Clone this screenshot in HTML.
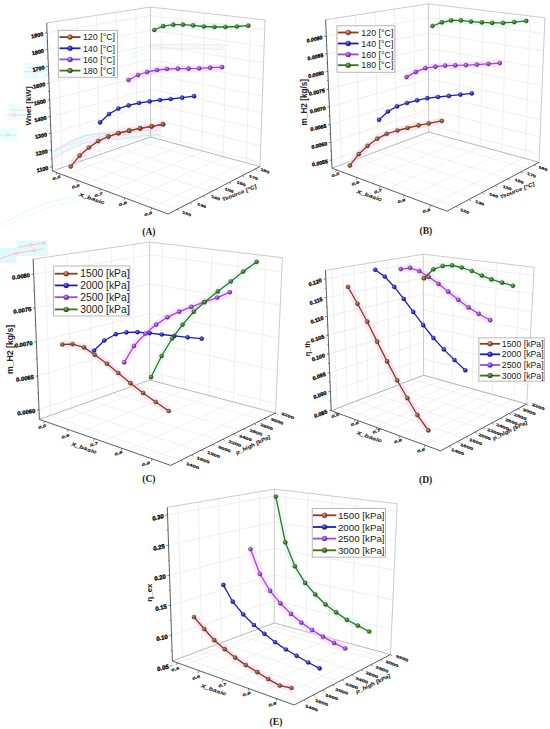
<!DOCTYPE html>
<html><head><meta charset="utf-8"><style>
html,body{margin:0;padding:0;background:#fff;width:550px;height:729px;overflow:hidden;}
svg{display:block;}

</style></head><body>
<svg width="550" height="729" viewBox="0 0 550 729">
<defs><radialGradient id="g_brown" cx="0.38" cy="0.35" r="0.7"><stop offset="0" stop-color="#c59a6a"/><stop offset="0.55" stop-color="#7d5a34"/><stop offset="1" stop-color="#4a2a10"/></radialGradient><radialGradient id="g_blue" cx="0.38" cy="0.35" r="0.7"><stop offset="0" stop-color="#8080ff"/><stop offset="0.55" stop-color="#2626cc"/><stop offset="1" stop-color="#0a0a70"/></radialGradient><radialGradient id="g_purple" cx="0.38" cy="0.35" r="0.7"><stop offset="0" stop-color="#d0a0ff"/><stop offset="0.55" stop-color="#9040d4"/><stop offset="1" stop-color="#50188a"/></radialGradient><radialGradient id="g_green" cx="0.38" cy="0.35" r="0.7"><stop offset="0" stop-color="#8fc070"/><stop offset="0.55" stop-color="#3d6e22"/><stop offset="1" stop-color="#1e4010"/></radialGradient><radialGradient id="g_brownL" cx="0.38" cy="0.35" r="0.7"><stop offset="0" stop-color="#f0b080"/><stop offset="0.55" stop-color="#b0502a"/><stop offset="1" stop-color="#5a2010"/></radialGradient></defs>
<rect width="550" height="729" fill="#ffffff"/>
<polyline points="53.5,154.8 70.0,145.0 84.2,138.9 100.0,136.5 113.6,135.7 130.0,134.8 143.1,134.0 160.3,133.2" fill="none" stroke="#d8f8f8" stroke-width="9" stroke-linejoin="round" opacity="0.55"/>
<polyline points="53.5,151.8 70.0,142.0 84.2,135.9 100.0,133.5 113.6,132.7 130.0,131.8 143.1,131.0 160.3,130.2" fill="none" stroke="#ffa8e4" stroke-width="0.9" stroke-linejoin="round" opacity="0.55"/>
<polyline points="53.5,158.0 70.0,149.0 84.2,143.2 100.0,141.0 113.6,139.5 130.0,137.5 143.1,135.9 160.3,134.6" fill="none" stroke="#ffa8e4" stroke-width="0.9" stroke-linejoin="round" opacity="0.45"/>
<polyline points="130.0,54.7 155.4,44.5 190.0,44.0 229.2,45.3" fill="none" stroke="#b8f0f0" stroke-width="0.9" stroke-linejoin="round" opacity="0.5"/>
<polyline points="130.0,59.8 155.4,48.3 190.0,48.5 224.1,49.6" fill="none" stroke="#b8f0f0" stroke-width="0.9" stroke-linejoin="round" opacity="0.4"/>
<polyline points="150.0,47.0 225.0,47.0" fill="none" stroke="#fde4f6" stroke-width="6" stroke-linejoin="round" opacity="0.4"/>
<rect x="24.0" y="63.0" width="23.0" height="16.0" fill="#d8f8f8" opacity="0.45"/>
<polyline points="26.0,67.5 47.0,67.5" fill="none" stroke="#ffa8e4" stroke-width="0.8" stroke-linejoin="round" opacity="0.5"/>
<polyline points="23.0,71.5 45.0,71.5" fill="none" stroke="#ffa8e4" stroke-width="0.8" stroke-linejoin="round" opacity="0.5"/>
<circle cx="35.0" cy="71.5" r="1.8" fill="none" stroke="#ffa8e4" stroke-width="0.8" opacity="0.5"/>
<rect x="8.0" y="104.0" width="17.0" height="16.0" fill="#d8f8f8" opacity="0.45"/>
<polyline points="10.0,110.0 30.0,110.0" fill="none" stroke="#ffa8e4" stroke-width="0.8" stroke-linejoin="round" opacity="0.5"/>
<polyline points="4.0,115.0 27.0,115.0" fill="none" stroke="#ffa8e4" stroke-width="0.8" stroke-linejoin="round" opacity="0.5"/>
<circle cx="14.0" cy="115.0" r="1.8" fill="none" stroke="#ffa8e4" stroke-width="0.8" opacity="0.5"/>
<rect x="0.0" y="128.0" width="17.0" height="14.0" fill="#d8f8f8" opacity="0.4"/>
<polyline points="0.0,135.0 17.0,135.0" fill="none" stroke="#9ee8f0" stroke-width="0.8" stroke-linejoin="round" opacity="0.7"/>
<circle cx="8.0" cy="135.0" r="1.6" fill="none" stroke="#9ee8f0" stroke-width="0.8" opacity="0.7"/>
<rect x="16.4" y="240.4" width="31.6" height="15.8" fill="#c8f4f4" opacity="0.55"/>
<rect x="0.0" y="248.0" width="16.4" height="15.3" fill="#c8f4f4" opacity="0.55"/>
<polyline points="19.0,247.2 31.0,245.0 45.0,242.8" fill="none" stroke="#ffa8e4" stroke-width="1.0" stroke-linejoin="round" opacity="0.7"/>
<circle cx="31.0" cy="245.0" r="1.5" fill="none" stroke="#ffa8e4" stroke-width="0.8" opacity="0.6"/>
<circle cx="44.0" cy="242.9" r="1.5" fill="none" stroke="#ffa8e4" stroke-width="0.8" opacity="0.6"/>
<polyline points="0.0,259.0 11.0,254.5 25.0,251.8 43.6,249.0" fill="none" stroke="#ffa8e4" stroke-width="1.0" stroke-linejoin="round" opacity="0.7"/>
<circle cx="16.0" cy="253.4" r="1.5" fill="none" stroke="#ffa8e4" stroke-width="0.8" opacity="0.6"/>
<circle cx="34.0" cy="250.3" r="1.5" fill="none" stroke="#ffa8e4" stroke-width="0.8" opacity="0.6"/>
<polyline points="0.0,224.7 25.0,212.0 50.0,202.0 78.9,195.4" fill="none" stroke="#d0f6f6" stroke-width="0.8" stroke-linejoin="round" opacity="0.8"/>
<polyline points="0.0,229.0 25.0,217.0 50.0,207.0 78.9,199.5" fill="none" stroke="#d0f6f6" stroke-width="0.8" stroke-linejoin="round" opacity="0.6"/>
<line x1="52.2" y1="166.8" x2="150.5" y2="133.3" stroke="#e0e0e0" stroke-width="0.5"/>
<line x1="150.5" y1="133.3" x2="260.1" y2="162.3" stroke="#e0e0e0" stroke-width="0.5"/>
<line x1="51.6" y1="150.1" x2="150.5" y2="118.6" stroke="#e0e0e0" stroke-width="0.5"/>
<line x1="150.5" y1="118.6" x2="260.7" y2="145.8" stroke="#e0e0e0" stroke-width="0.5"/>
<line x1="50.9" y1="133.3" x2="150.5" y2="103.9" stroke="#e0e0e0" stroke-width="0.5"/>
<line x1="150.5" y1="103.9" x2="261.3" y2="129.2" stroke="#e0e0e0" stroke-width="0.5"/>
<line x1="50.3" y1="116.6" x2="150.5" y2="89.2" stroke="#e0e0e0" stroke-width="0.5"/>
<line x1="150.5" y1="89.2" x2="261.8" y2="112.6" stroke="#e0e0e0" stroke-width="0.5"/>
<line x1="49.7" y1="99.8" x2="150.5" y2="74.5" stroke="#e0e0e0" stroke-width="0.5"/>
<line x1="150.5" y1="74.5" x2="262.4" y2="96.0" stroke="#e0e0e0" stroke-width="0.5"/>
<line x1="49.0" y1="83.1" x2="150.4" y2="59.7" stroke="#e0e0e0" stroke-width="0.5"/>
<line x1="150.4" y1="59.7" x2="263.0" y2="79.4" stroke="#e0e0e0" stroke-width="0.5"/>
<line x1="48.4" y1="66.3" x2="150.4" y2="45.0" stroke="#e0e0e0" stroke-width="0.5"/>
<line x1="150.4" y1="45.0" x2="263.5" y2="62.9" stroke="#e0e0e0" stroke-width="0.5"/>
<line x1="47.7" y1="49.6" x2="150.4" y2="30.3" stroke="#e0e0e0" stroke-width="0.5"/>
<line x1="150.4" y1="30.3" x2="264.1" y2="46.3" stroke="#e0e0e0" stroke-width="0.5"/>
<line x1="47.1" y1="32.8" x2="150.4" y2="15.6" stroke="#e0e0e0" stroke-width="0.5"/>
<line x1="150.4" y1="15.6" x2="264.7" y2="29.7" stroke="#e0e0e0" stroke-width="0.5"/>
<line x1="62.2" y1="167.6" x2="57.1" y2="21.4" stroke="#e0e0e0" stroke-width="0.5"/>
<line x1="80.8" y1="161.1" x2="76.8" y2="18.4" stroke="#e0e0e0" stroke-width="0.5"/>
<line x1="99.5" y1="154.7" x2="96.5" y2="15.3" stroke="#e0e0e0" stroke-width="0.5"/>
<line x1="118.1" y1="148.2" x2="116.2" y2="12.3" stroke="#e0e0e0" stroke-width="0.5"/>
<line x1="136.8" y1="141.8" x2="135.9" y2="9.2" stroke="#e0e0e0" stroke-width="0.5"/>
<line x1="64.0" y1="175.3" x2="161.4" y2="139.9" stroke="#e4e4e4" stroke-width="0.5"/>
<line x1="85.9" y1="183.5" x2="182.3" y2="145.6" stroke="#e4e4e4" stroke-width="0.5"/>
<line x1="107.9" y1="191.6" x2="203.1" y2="151.2" stroke="#e4e4e4" stroke-width="0.5"/>
<line x1="129.9" y1="199.8" x2="223.9" y2="156.8" stroke="#e4e4e4" stroke-width="0.5"/>
<line x1="151.8" y1="208.0" x2="244.7" y2="162.4" stroke="#e4e4e4" stroke-width="0.5"/>
<line x1="160.9" y1="139.8" x2="161.3" y2="8.2" stroke="#e0e0e0" stroke-width="0.5"/>
<line x1="61.7" y1="167.8" x2="176.7" y2="209.5" stroke="#e4e4e4" stroke-width="0.5"/>
<line x1="180.6" y1="145.1" x2="181.9" y2="10.6" stroke="#e0e0e0" stroke-width="0.5"/>
<line x1="79.4" y1="161.7" x2="193.3" y2="200.9" stroke="#e4e4e4" stroke-width="0.5"/>
<line x1="202.0" y1="150.9" x2="204.3" y2="13.1" stroke="#e0e0e0" stroke-width="0.5"/>
<line x1="98.5" y1="155.0" x2="211.2" y2="191.7" stroke="#e4e4e4" stroke-width="0.5"/>
<line x1="223.3" y1="156.6" x2="226.6" y2="15.6" stroke="#e0e0e0" stroke-width="0.5"/>
<line x1="117.6" y1="148.4" x2="229.2" y2="182.4" stroke="#e4e4e4" stroke-width="0.5"/>
<line x1="246.3" y1="162.8" x2="250.7" y2="18.4" stroke="#e0e0e0" stroke-width="0.5"/>
<line x1="138.2" y1="141.2" x2="248.5" y2="172.4" stroke="#e4e4e4" stroke-width="0.5"/>
<line x1="46.7" y1="23.0" x2="150.4" y2="7.0" stroke="#a8a8a8" stroke-width="0.6"/>
<line x1="150.4" y1="7.0" x2="265.0" y2="20.0" stroke="#a8a8a8" stroke-width="0.6"/>
<line x1="150.5" y1="137.0" x2="150.4" y2="7.0" stroke="#a8a8a8" stroke-width="0.6"/>
<line x1="260.0" y1="166.5" x2="265.0" y2="20.0" stroke="#a8a8a8" stroke-width="0.6"/>
<line x1="52.4" y1="171.0" x2="150.5" y2="137.0" stroke="#888" stroke-width="0.6"/>
<line x1="150.5" y1="137.0" x2="260.0" y2="166.5" stroke="#888" stroke-width="0.6"/>
<line x1="52.4" y1="171.0" x2="46.7" y2="23.0" stroke="#333333" stroke-width="0.8"/>
<line x1="52.4" y1="171.0" x2="168.0" y2="214.0" stroke="#333333" stroke-width="0.8"/>
<line x1="168.0" y1="214.0" x2="260.0" y2="166.5" stroke="#333333" stroke-width="0.8"/>
<line x1="52.2" y1="166.8" x2="50.0" y2="167.1" stroke="#333333" stroke-width="0.6"/>
<line x1="51.6" y1="150.1" x2="49.4" y2="150.4" stroke="#333333" stroke-width="0.6"/>
<line x1="50.9" y1="133.3" x2="48.7" y2="133.6" stroke="#333333" stroke-width="0.6"/>
<line x1="50.3" y1="116.6" x2="48.1" y2="116.9" stroke="#333333" stroke-width="0.6"/>
<line x1="49.7" y1="99.8" x2="47.5" y2="100.1" stroke="#333333" stroke-width="0.6"/>
<line x1="49.0" y1="83.1" x2="46.8" y2="83.4" stroke="#333333" stroke-width="0.6"/>
<line x1="48.4" y1="66.3" x2="46.2" y2="66.6" stroke="#333333" stroke-width="0.6"/>
<line x1="47.7" y1="49.6" x2="45.5" y2="49.9" stroke="#333333" stroke-width="0.6"/>
<line x1="47.1" y1="32.8" x2="44.9" y2="33.1" stroke="#333333" stroke-width="0.6"/>
<line x1="51.9" y1="158.4" x2="50.6" y2="158.6" stroke="#333333" stroke-width="0.5"/>
<line x1="51.3" y1="141.7" x2="50.0" y2="141.9" stroke="#333333" stroke-width="0.5"/>
<line x1="50.6" y1="124.9" x2="49.3" y2="125.1" stroke="#333333" stroke-width="0.5"/>
<line x1="50.0" y1="108.2" x2="48.7" y2="108.4" stroke="#333333" stroke-width="0.5"/>
<line x1="49.3" y1="91.4" x2="48.0" y2="91.6" stroke="#333333" stroke-width="0.5"/>
<line x1="48.7" y1="74.7" x2="47.4" y2="74.9" stroke="#333333" stroke-width="0.5"/>
<line x1="48.0" y1="57.9" x2="46.7" y2="58.1" stroke="#333333" stroke-width="0.5"/>
<line x1="47.4" y1="41.2" x2="46.1" y2="41.4" stroke="#333333" stroke-width="0.5"/>
<text transform="translate(48.6,169.8) rotate(-13) skewX(-4)" font-family="Liberation Sans" font-size="5.5" font-weight="bold" text-anchor="end" fill="#000" stroke="#000" stroke-width="0.3">1100</text>
<text transform="translate(48.0,153.1) rotate(-13) skewX(-4)" font-family="Liberation Sans" font-size="5.5" font-weight="bold" text-anchor="end" fill="#000" stroke="#000" stroke-width="0.3">1200</text>
<text transform="translate(47.3,136.3) rotate(-13) skewX(-4)" font-family="Liberation Sans" font-size="5.5" font-weight="bold" text-anchor="end" fill="#000" stroke="#000" stroke-width="0.3">1300</text>
<text transform="translate(46.7,119.6) rotate(-13) skewX(-4)" font-family="Liberation Sans" font-size="5.5" font-weight="bold" text-anchor="end" fill="#000" stroke="#000" stroke-width="0.3">1400</text>
<text transform="translate(46.1,102.8) rotate(-13) skewX(-4)" font-family="Liberation Sans" font-size="5.5" font-weight="bold" text-anchor="end" fill="#000" stroke="#000" stroke-width="0.3">1500</text>
<text transform="translate(45.4,86.1) rotate(-13) skewX(-4)" font-family="Liberation Sans" font-size="5.5" font-weight="bold" text-anchor="end" fill="#000" stroke="#000" stroke-width="0.3">1600</text>
<text transform="translate(44.8,69.3) rotate(-13) skewX(-4)" font-family="Liberation Sans" font-size="5.5" font-weight="bold" text-anchor="end" fill="#000" stroke="#000" stroke-width="0.3">1700</text>
<text transform="translate(44.1,52.6) rotate(-13) skewX(-4)" font-family="Liberation Sans" font-size="5.5" font-weight="bold" text-anchor="end" fill="#000" stroke="#000" stroke-width="0.3">1800</text>
<text transform="translate(43.5,35.8) rotate(-13) skewX(-4)" font-family="Liberation Sans" font-size="5.5" font-weight="bold" text-anchor="end" fill="#000" stroke="#000" stroke-width="0.3">1900</text>
<line x1="57.0" y1="172.7" x2="55.8" y2="174.9" stroke="#333333" stroke-width="0.6"/>
<line x1="77.8" y1="180.5" x2="76.6" y2="182.7" stroke="#333333" stroke-width="0.6"/>
<line x1="101.0" y1="189.1" x2="99.8" y2="191.3" stroke="#333333" stroke-width="0.6"/>
<line x1="125.2" y1="198.1" x2="124.0" y2="200.3" stroke="#333333" stroke-width="0.6"/>
<line x1="151.8" y1="208.0" x2="150.6" y2="210.2" stroke="#333333" stroke-width="0.6"/>
<text transform="translate(56.7,179.0) rotate(-17) skewX(-15) scale(1,0.62)" font-family="Liberation Sans" font-size="5.8" font-weight="bold" text-anchor="middle" fill="#111" stroke="#111" stroke-width="0.28">0.5</text>
<text transform="translate(75.8,187.7) rotate(-17) skewX(-15) scale(1,0.62)" font-family="Liberation Sans" font-size="5.8" font-weight="bold" text-anchor="middle" fill="#111" stroke="#111" stroke-width="0.28">0.6</text>
<text transform="translate(98.7,196.0) rotate(-17) skewX(-15) scale(1,0.62)" font-family="Liberation Sans" font-size="5.8" font-weight="bold" text-anchor="middle" fill="#111" stroke="#111" stroke-width="0.28">0.7</text>
<text transform="translate(122.9,205.0) rotate(-17) skewX(-15) scale(1,0.62)" font-family="Liberation Sans" font-size="5.8" font-weight="bold" text-anchor="middle" fill="#111" stroke="#111" stroke-width="0.28">0.8</text>
<text transform="translate(148.3,215.0) rotate(-17) skewX(-15) scale(1,0.62)" font-family="Liberation Sans" font-size="5.8" font-weight="bold" text-anchor="middle" fill="#111" stroke="#111" stroke-width="0.28">0.9</text>
<line x1="177.2" y1="209.2" x2="178.8" y2="210.8" stroke="#333333" stroke-width="0.6"/>
<line x1="190.2" y1="202.5" x2="191.8" y2="204.1" stroke="#333333" stroke-width="0.6"/>
<line x1="203.3" y1="195.8" x2="204.9" y2="197.4" stroke="#333333" stroke-width="0.6"/>
<line x1="216.3" y1="189.1" x2="217.9" y2="190.7" stroke="#333333" stroke-width="0.6"/>
<line x1="229.3" y1="182.3" x2="230.9" y2="183.9" stroke="#333333" stroke-width="0.6"/>
<line x1="242.4" y1="175.6" x2="244.0" y2="177.2" stroke="#333333" stroke-width="0.6"/>
<line x1="255.4" y1="168.9" x2="257.0" y2="170.5" stroke="#333333" stroke-width="0.6"/>
<text transform="translate(186.5,214.9) rotate(20) skewX(15) scale(1,0.62)" font-family="Liberation Sans" font-size="5.6" font-weight="bold" text-anchor="middle" fill="#111" stroke="#111" stroke-width="0.28">120</text>
<text transform="translate(201.6,206.7) rotate(20) skewX(15) scale(1,0.62)" font-family="Liberation Sans" font-size="5.6" font-weight="bold" text-anchor="middle" fill="#111" stroke="#111" stroke-width="0.28">130</text>
<text transform="translate(215.5,199.0) rotate(20) skewX(15) scale(1,0.62)" font-family="Liberation Sans" font-size="5.6" font-weight="bold" text-anchor="middle" fill="#111" stroke="#111" stroke-width="0.28">140</text>
<text transform="translate(229.1,191.5) rotate(20) skewX(15) scale(1,0.62)" font-family="Liberation Sans" font-size="5.6" font-weight="bold" text-anchor="middle" fill="#111" stroke="#111" stroke-width="0.28">150</text>
<text transform="translate(241.1,184.9) rotate(20) skewX(15) scale(1,0.62)" font-family="Liberation Sans" font-size="5.6" font-weight="bold" text-anchor="middle" fill="#111" stroke="#111" stroke-width="0.28">160</text>
<text transform="translate(253.4,178.7) rotate(20) skewX(15) scale(1,0.62)" font-family="Liberation Sans" font-size="5.6" font-weight="bold" text-anchor="middle" fill="#111" stroke="#111" stroke-width="0.28">170</text>
<text transform="translate(264.8,172.1) rotate(20) skewX(15) scale(1,0.62)" font-family="Liberation Sans" font-size="5.6" font-weight="bold" text-anchor="middle" fill="#111" stroke="#111" stroke-width="0.28">180</text>
<text transform="translate(91.0,200.0) rotate(19) skewX(-12) scale(1,0.7)" font-family="Liberation Sans" font-size="7.0" font-weight="bold" text-anchor="middle" fill="#222" stroke="#222" stroke-width="0.15">X_basic</text>
<text transform="translate(239.5,194.7) rotate(-22) skewX(-10) scale(1,0.8)" font-family="Liberation Sans" font-size="6.3" font-weight="bold" text-anchor="middle" fill="#222" stroke="#222" stroke-width="0.12">Tsource [°C]</text>
<text transform="translate(31.0,106.0) rotate(-90)" font-family="Liberation Sans" font-size="8.0" font-weight="bold" text-anchor="middle" fill="#222">Wnet [kW]</text>
<polyline points="70.7,166.6 79.6,155.6 89.0,147.5 98.2,141.1 108.4,136.5 118.5,133.2 129.2,130.7 140.2,128.4 151.6,126.4 163.1,124.3" fill="none" stroke="#f8c8e8" stroke-width="7" stroke-linejoin="round" opacity="0.45"/>
<polyline points="128.4,80.0 138.0,75.0 147.0,72.0 157.0,70.0 166.9,69.0 177.8,68.7 188.5,68.7 199.2,68.4 210.2,67.7 222.1,67.2" fill="none" stroke="#f8c8f0" stroke-width="7" stroke-linejoin="round" opacity="0.45"/>
<polyline points="154.2,30.0 163.1,26.2 173.3,24.7 182.9,24.7 193.1,25.4 203.8,26.5 214.5,27.0 225.4,27.0 236.9,26.5 248.3,25.7" fill="none" stroke="#c8f4f0" stroke-width="7" stroke-linejoin="round" opacity="0.45"/>
<polyline points="70.7,166.6 79.6,155.6 89.0,147.5 98.2,141.1 108.4,136.5 118.5,133.2 129.2,130.7 140.2,128.4 151.6,126.4 163.1,124.3" fill="none" stroke="#8c3b1c" stroke-width="1.3" stroke-linejoin="round"/>
<circle cx="70.7" cy="166.6" r="2.1" fill="url(#g_brown)" stroke="#4a2a10" stroke-width="0.3"/>
<circle cx="79.6" cy="155.6" r="2.1" fill="url(#g_brown)" stroke="#4a2a10" stroke-width="0.3"/>
<circle cx="89.0" cy="147.5" r="2.1" fill="url(#g_brown)" stroke="#4a2a10" stroke-width="0.3"/>
<circle cx="98.2" cy="141.1" r="2.1" fill="url(#g_brown)" stroke="#4a2a10" stroke-width="0.3"/>
<circle cx="108.4" cy="136.5" r="2.1" fill="url(#g_brown)" stroke="#4a2a10" stroke-width="0.3"/>
<circle cx="118.5" cy="133.2" r="2.1" fill="url(#g_brown)" stroke="#4a2a10" stroke-width="0.3"/>
<circle cx="129.2" cy="130.7" r="2.1" fill="url(#g_brown)" stroke="#4a2a10" stroke-width="0.3"/>
<circle cx="140.2" cy="128.4" r="2.1" fill="url(#g_brown)" stroke="#4a2a10" stroke-width="0.3"/>
<circle cx="151.6" cy="126.4" r="2.1" fill="url(#g_brown)" stroke="#4a2a10" stroke-width="0.3"/>
<circle cx="163.1" cy="124.3" r="2.1" fill="url(#g_brown)" stroke="#4a2a10" stroke-width="0.3"/>
<polyline points="100.0,122.4 109.0,114.0 118.4,108.6 128.6,105.4 139.0,103.0 149.6,101.4 160.0,100.0 170.7,99.0 182.2,97.7 194.1,96.2" fill="none" stroke="#1e1eb8" stroke-width="1.3" stroke-linejoin="round"/>
<circle cx="100.0" cy="122.4" r="2.1" fill="url(#g_blue)" stroke="#0a0a70" stroke-width="0.3"/>
<circle cx="109.0" cy="114.0" r="2.1" fill="url(#g_blue)" stroke="#0a0a70" stroke-width="0.3"/>
<circle cx="118.4" cy="108.6" r="2.1" fill="url(#g_blue)" stroke="#0a0a70" stroke-width="0.3"/>
<circle cx="128.6" cy="105.4" r="2.1" fill="url(#g_blue)" stroke="#0a0a70" stroke-width="0.3"/>
<circle cx="139.0" cy="103.0" r="2.1" fill="url(#g_blue)" stroke="#0a0a70" stroke-width="0.3"/>
<circle cx="149.6" cy="101.4" r="2.1" fill="url(#g_blue)" stroke="#0a0a70" stroke-width="0.3"/>
<circle cx="160.0" cy="100.0" r="2.1" fill="url(#g_blue)" stroke="#0a0a70" stroke-width="0.3"/>
<circle cx="170.7" cy="99.0" r="2.1" fill="url(#g_blue)" stroke="#0a0a70" stroke-width="0.3"/>
<circle cx="182.2" cy="97.7" r="2.1" fill="url(#g_blue)" stroke="#0a0a70" stroke-width="0.3"/>
<circle cx="194.1" cy="96.2" r="2.1" fill="url(#g_blue)" stroke="#0a0a70" stroke-width="0.3"/>
<polyline points="128.4,80.0 138.0,75.0 147.0,72.0 157.0,70.0 166.9,69.0 177.8,68.7 188.5,68.7 199.2,68.4 210.2,67.7 222.1,67.2" fill="none" stroke="#9c4ae0" stroke-width="1.3" stroke-linejoin="round"/>
<circle cx="128.4" cy="80.0" r="2.1" fill="url(#g_purple)" stroke="#50188a" stroke-width="0.3"/>
<circle cx="138.0" cy="75.0" r="2.1" fill="url(#g_purple)" stroke="#50188a" stroke-width="0.3"/>
<circle cx="147.0" cy="72.0" r="2.1" fill="url(#g_purple)" stroke="#50188a" stroke-width="0.3"/>
<circle cx="157.0" cy="70.0" r="2.1" fill="url(#g_purple)" stroke="#50188a" stroke-width="0.3"/>
<circle cx="166.9" cy="69.0" r="2.1" fill="url(#g_purple)" stroke="#50188a" stroke-width="0.3"/>
<circle cx="177.8" cy="68.7" r="2.1" fill="url(#g_purple)" stroke="#50188a" stroke-width="0.3"/>
<circle cx="188.5" cy="68.7" r="2.1" fill="url(#g_purple)" stroke="#50188a" stroke-width="0.3"/>
<circle cx="199.2" cy="68.4" r="2.1" fill="url(#g_purple)" stroke="#50188a" stroke-width="0.3"/>
<circle cx="210.2" cy="67.7" r="2.1" fill="url(#g_purple)" stroke="#50188a" stroke-width="0.3"/>
<circle cx="222.1" cy="67.2" r="2.1" fill="url(#g_purple)" stroke="#50188a" stroke-width="0.3"/>
<polyline points="154.2,30.0 163.1,26.2 173.3,24.7 182.9,24.7 193.1,25.4 203.8,26.5 214.5,27.0 225.4,27.0 236.9,26.5 248.3,25.7" fill="none" stroke="#3c7020" stroke-width="1.3" stroke-linejoin="round"/>
<circle cx="154.2" cy="30.0" r="2.1" fill="url(#g_green)" stroke="#1e4010" stroke-width="0.3"/>
<circle cx="163.1" cy="26.2" r="2.1" fill="url(#g_green)" stroke="#1e4010" stroke-width="0.3"/>
<circle cx="173.3" cy="24.7" r="2.1" fill="url(#g_green)" stroke="#1e4010" stroke-width="0.3"/>
<circle cx="182.9" cy="24.7" r="2.1" fill="url(#g_green)" stroke="#1e4010" stroke-width="0.3"/>
<circle cx="193.1" cy="25.4" r="2.1" fill="url(#g_green)" stroke="#1e4010" stroke-width="0.3"/>
<circle cx="203.8" cy="26.5" r="2.1" fill="url(#g_green)" stroke="#1e4010" stroke-width="0.3"/>
<circle cx="214.5" cy="27.0" r="2.1" fill="url(#g_green)" stroke="#1e4010" stroke-width="0.3"/>
<circle cx="225.4" cy="27.0" r="2.1" fill="url(#g_green)" stroke="#1e4010" stroke-width="0.3"/>
<circle cx="236.9" cy="26.5" r="2.1" fill="url(#g_green)" stroke="#1e4010" stroke-width="0.3"/>
<circle cx="248.3" cy="25.7" r="2.1" fill="url(#g_green)" stroke="#1e4010" stroke-width="0.3"/>
<polyline points="108.4,136.5 118.5,133.2 129.2,130.7 140.2,128.4 151.6,126.4 163.1,124.3" fill="none" stroke="#d42a1a" stroke-width="1.3" stroke-linejoin="round"/>
<circle cx="108.4" cy="136.5" r="2.1" fill="url(#g_brown)" stroke="#4a2a10" stroke-width="0.3"/>
<circle cx="118.5" cy="133.2" r="2.1" fill="url(#g_brown)" stroke="#4a2a10" stroke-width="0.3"/>
<circle cx="129.2" cy="130.7" r="2.1" fill="url(#g_brown)" stroke="#4a2a10" stroke-width="0.3"/>
<circle cx="140.2" cy="128.4" r="2.1" fill="url(#g_brown)" stroke="#4a2a10" stroke-width="0.3"/>
<circle cx="151.6" cy="126.4" r="2.1" fill="url(#g_brown)" stroke="#4a2a10" stroke-width="0.3"/>
<circle cx="163.1" cy="124.3" r="2.1" fill="url(#g_brown)" stroke="#4a2a10" stroke-width="0.3"/>
<line x1="331.6" y1="160.0" x2="428.6" y2="124.9" stroke="#e0e0e0" stroke-width="0.5"/>
<line x1="428.6" y1="124.9" x2="539.3" y2="154.3" stroke="#e0e0e0" stroke-width="0.5"/>
<line x1="330.9" y1="142.3" x2="428.6" y2="109.6" stroke="#e0e0e0" stroke-width="0.5"/>
<line x1="428.6" y1="109.6" x2="540.0" y2="137.1" stroke="#e0e0e0" stroke-width="0.5"/>
<line x1="330.1" y1="124.6" x2="428.5" y2="94.3" stroke="#e0e0e0" stroke-width="0.5"/>
<line x1="428.5" y1="94.3" x2="540.7" y2="119.8" stroke="#e0e0e0" stroke-width="0.5"/>
<line x1="329.4" y1="106.9" x2="428.5" y2="79.0" stroke="#e0e0e0" stroke-width="0.5"/>
<line x1="428.5" y1="79.0" x2="541.4" y2="102.6" stroke="#e0e0e0" stroke-width="0.5"/>
<line x1="328.6" y1="89.2" x2="428.5" y2="63.8" stroke="#e0e0e0" stroke-width="0.5"/>
<line x1="428.5" y1="63.8" x2="542.1" y2="85.4" stroke="#e0e0e0" stroke-width="0.5"/>
<line x1="327.8" y1="71.5" x2="428.5" y2="48.5" stroke="#e0e0e0" stroke-width="0.5"/>
<line x1="428.5" y1="48.5" x2="542.8" y2="68.1" stroke="#e0e0e0" stroke-width="0.5"/>
<line x1="327.1" y1="53.8" x2="428.4" y2="33.2" stroke="#e0e0e0" stroke-width="0.5"/>
<line x1="428.4" y1="33.2" x2="543.5" y2="50.9" stroke="#e0e0e0" stroke-width="0.5"/>
<line x1="326.3" y1="36.1" x2="428.4" y2="17.9" stroke="#e0e0e0" stroke-width="0.5"/>
<line x1="428.4" y1="17.9" x2="544.3" y2="33.7" stroke="#e0e0e0" stroke-width="0.5"/>
<line x1="341.7" y1="164.6" x2="335.9" y2="18.2" stroke="#e0e0e0" stroke-width="0.5"/>
<line x1="360.0" y1="157.7" x2="355.4" y2="15.2" stroke="#e0e0e0" stroke-width="0.5"/>
<line x1="378.4" y1="150.8" x2="374.9" y2="12.1" stroke="#e0e0e0" stroke-width="0.5"/>
<line x1="396.7" y1="143.9" x2="394.5" y2="9.1" stroke="#e0e0e0" stroke-width="0.5"/>
<line x1="415.1" y1="137.1" x2="414.0" y2="6.0" stroke="#e0e0e0" stroke-width="0.5"/>
<line x1="343.5" y1="172.5" x2="439.6" y2="135.0" stroke="#e4e4e4" stroke-width="0.5"/>
<line x1="365.3" y1="180.7" x2="460.6" y2="140.8" stroke="#e4e4e4" stroke-width="0.5"/>
<line x1="387.2" y1="188.8" x2="481.6" y2="146.5" stroke="#e4e4e4" stroke-width="0.5"/>
<line x1="409.0" y1="197.0" x2="502.6" y2="152.3" stroke="#e4e4e4" stroke-width="0.5"/>
<line x1="430.8" y1="205.2" x2="523.5" y2="158.1" stroke="#e4e4e4" stroke-width="0.5"/>
<line x1="439.1" y1="134.9" x2="439.5" y2="5.1" stroke="#e0e0e0" stroke-width="0.5"/>
<line x1="341.2" y1="164.8" x2="455.6" y2="206.6" stroke="#e4e4e4" stroke-width="0.5"/>
<line x1="459.0" y1="140.3" x2="460.4" y2="7.7" stroke="#e0e0e0" stroke-width="0.5"/>
<line x1="358.6" y1="158.2" x2="472.2" y2="197.8" stroke="#e4e4e4" stroke-width="0.5"/>
<line x1="480.5" y1="146.2" x2="483.2" y2="10.4" stroke="#e0e0e0" stroke-width="0.5"/>
<line x1="377.4" y1="151.2" x2="490.2" y2="188.2" stroke="#e4e4e4" stroke-width="0.5"/>
<line x1="502.0" y1="152.1" x2="505.9" y2="13.1" stroke="#e0e0e0" stroke-width="0.5"/>
<line x1="396.2" y1="144.1" x2="508.1" y2="178.7" stroke="#e4e4e4" stroke-width="0.5"/>
<line x1="525.2" y1="158.5" x2="530.3" y2="16.1" stroke="#e0e0e0" stroke-width="0.5"/>
<line x1="416.5" y1="136.5" x2="527.5" y2="168.4" stroke="#e4e4e4" stroke-width="0.5"/>
<line x1="325.6" y1="19.8" x2="428.4" y2="3.8" stroke="#a8a8a8" stroke-width="0.6"/>
<line x1="428.4" y1="3.8" x2="544.9" y2="17.8" stroke="#a8a8a8" stroke-width="0.6"/>
<line x1="428.6" y1="132.0" x2="428.4" y2="3.8" stroke="#a8a8a8" stroke-width="0.6"/>
<line x1="539.0" y1="162.3" x2="544.9" y2="17.8" stroke="#a8a8a8" stroke-width="0.6"/>
<line x1="332.0" y1="168.2" x2="428.6" y2="132.0" stroke="#888" stroke-width="0.6"/>
<line x1="428.6" y1="132.0" x2="539.0" y2="162.3" stroke="#888" stroke-width="0.6"/>
<line x1="332.0" y1="168.2" x2="325.6" y2="19.8" stroke="#333333" stroke-width="0.8"/>
<line x1="332.0" y1="168.2" x2="446.9" y2="211.2" stroke="#333333" stroke-width="0.8"/>
<line x1="446.9" y1="211.2" x2="539.0" y2="162.3" stroke="#333333" stroke-width="0.8"/>
<line x1="331.6" y1="160.0" x2="329.4" y2="160.3" stroke="#333333" stroke-width="0.6"/>
<line x1="330.9" y1="142.3" x2="328.7" y2="142.6" stroke="#333333" stroke-width="0.6"/>
<line x1="330.1" y1="124.6" x2="327.9" y2="124.9" stroke="#333333" stroke-width="0.6"/>
<line x1="329.4" y1="106.9" x2="327.2" y2="107.2" stroke="#333333" stroke-width="0.6"/>
<line x1="328.6" y1="89.2" x2="326.4" y2="89.5" stroke="#333333" stroke-width="0.6"/>
<line x1="327.8" y1="71.5" x2="325.6" y2="71.8" stroke="#333333" stroke-width="0.6"/>
<line x1="327.1" y1="53.8" x2="324.9" y2="54.1" stroke="#333333" stroke-width="0.6"/>
<line x1="326.3" y1="36.1" x2="324.1" y2="36.4" stroke="#333333" stroke-width="0.6"/>
<line x1="331.3" y1="151.2" x2="330.0" y2="151.3" stroke="#333333" stroke-width="0.5"/>
<line x1="330.5" y1="133.5" x2="329.2" y2="133.7" stroke="#333333" stroke-width="0.5"/>
<line x1="329.7" y1="115.8" x2="328.4" y2="116.0" stroke="#333333" stroke-width="0.5"/>
<line x1="329.0" y1="98.1" x2="327.7" y2="98.3" stroke="#333333" stroke-width="0.5"/>
<line x1="328.2" y1="80.4" x2="326.9" y2="80.6" stroke="#333333" stroke-width="0.5"/>
<line x1="327.4" y1="62.7" x2="326.1" y2="62.9" stroke="#333333" stroke-width="0.5"/>
<line x1="326.7" y1="45.0" x2="325.4" y2="45.2" stroke="#333333" stroke-width="0.5"/>
<text transform="translate(328.0,163.0) rotate(-13) skewX(-4)" font-family="Liberation Sans" font-size="5.25" font-weight="bold" text-anchor="end" fill="#000" stroke="#000" stroke-width="0.3">0.0055</text>
<text transform="translate(327.3,145.3) rotate(-13) skewX(-4)" font-family="Liberation Sans" font-size="5.25" font-weight="bold" text-anchor="end" fill="#000" stroke="#000" stroke-width="0.3">0.0060</text>
<text transform="translate(326.5,127.6) rotate(-13) skewX(-4)" font-family="Liberation Sans" font-size="5.25" font-weight="bold" text-anchor="end" fill="#000" stroke="#000" stroke-width="0.3">0.0065</text>
<text transform="translate(325.8,109.9) rotate(-13) skewX(-4)" font-family="Liberation Sans" font-size="5.25" font-weight="bold" text-anchor="end" fill="#000" stroke="#000" stroke-width="0.3">0.0070</text>
<text transform="translate(325.0,92.2) rotate(-13) skewX(-4)" font-family="Liberation Sans" font-size="5.25" font-weight="bold" text-anchor="end" fill="#000" stroke="#000" stroke-width="0.3">0.0075</text>
<text transform="translate(324.2,74.5) rotate(-13) skewX(-4)" font-family="Liberation Sans" font-size="5.25" font-weight="bold" text-anchor="end" fill="#000" stroke="#000" stroke-width="0.3">0.0080</text>
<text transform="translate(323.5,56.8) rotate(-13) skewX(-4)" font-family="Liberation Sans" font-size="5.25" font-weight="bold" text-anchor="end" fill="#000" stroke="#000" stroke-width="0.3">0.0085</text>
<text transform="translate(322.7,39.1) rotate(-13) skewX(-4)" font-family="Liberation Sans" font-size="5.25" font-weight="bold" text-anchor="end" fill="#000" stroke="#000" stroke-width="0.3">0.0090</text>
<line x1="336.6" y1="169.9" x2="335.4" y2="172.1" stroke="#333333" stroke-width="0.6"/>
<line x1="357.3" y1="177.7" x2="356.1" y2="179.9" stroke="#333333" stroke-width="0.6"/>
<line x1="380.3" y1="186.3" x2="379.1" y2="188.5" stroke="#333333" stroke-width="0.6"/>
<line x1="404.4" y1="195.3" x2="403.2" y2="197.5" stroke="#333333" stroke-width="0.6"/>
<line x1="430.8" y1="205.2" x2="429.6" y2="207.4" stroke="#333333" stroke-width="0.6"/>
<text transform="translate(335.5,176.0) rotate(-17) skewX(-15) scale(1,0.62)" font-family="Liberation Sans" font-size="5.8" font-weight="bold" text-anchor="middle" fill="#111" stroke="#111" stroke-width="0.28">0.5</text>
<text transform="translate(355.5,184.5) rotate(-17) skewX(-15) scale(1,0.62)" font-family="Liberation Sans" font-size="5.8" font-weight="bold" text-anchor="middle" fill="#111" stroke="#111" stroke-width="0.28">0.6</text>
<text transform="translate(378.0,192.5) rotate(-17) skewX(-15) scale(1,0.62)" font-family="Liberation Sans" font-size="5.8" font-weight="bold" text-anchor="middle" fill="#111" stroke="#111" stroke-width="0.28">0.7</text>
<text transform="translate(401.5,202.2) rotate(-17) skewX(-15) scale(1,0.62)" font-family="Liberation Sans" font-size="5.8" font-weight="bold" text-anchor="middle" fill="#111" stroke="#111" stroke-width="0.28">0.8</text>
<text transform="translate(426.5,211.9) rotate(-17) skewX(-15) scale(1,0.62)" font-family="Liberation Sans" font-size="5.8" font-weight="bold" text-anchor="middle" fill="#111" stroke="#111" stroke-width="0.28">0.9</text>
<line x1="456.1" y1="206.3" x2="457.7" y2="207.9" stroke="#333333" stroke-width="0.6"/>
<line x1="469.2" y1="199.4" x2="470.8" y2="201.0" stroke="#333333" stroke-width="0.6"/>
<line x1="482.2" y1="192.5" x2="483.8" y2="194.1" stroke="#333333" stroke-width="0.6"/>
<line x1="495.3" y1="185.5" x2="496.9" y2="187.1" stroke="#333333" stroke-width="0.6"/>
<line x1="508.3" y1="178.6" x2="509.9" y2="180.2" stroke="#333333" stroke-width="0.6"/>
<line x1="521.3" y1="171.7" x2="522.9" y2="173.3" stroke="#333333" stroke-width="0.6"/>
<line x1="534.4" y1="164.7" x2="536.0" y2="166.3" stroke="#333333" stroke-width="0.6"/>
<text transform="translate(464.5,212.4) rotate(20) skewX(15) scale(1,0.62)" font-family="Liberation Sans" font-size="5.6" font-weight="bold" text-anchor="middle" fill="#111" stroke="#111" stroke-width="0.28">120</text>
<text transform="translate(479.6,204.2) rotate(20) skewX(15) scale(1,0.62)" font-family="Liberation Sans" font-size="5.6" font-weight="bold" text-anchor="middle" fill="#111" stroke="#111" stroke-width="0.28">130</text>
<text transform="translate(493.5,196.5) rotate(20) skewX(15) scale(1,0.62)" font-family="Liberation Sans" font-size="5.6" font-weight="bold" text-anchor="middle" fill="#111" stroke="#111" stroke-width="0.28">140</text>
<text transform="translate(507.1,189.0) rotate(20) skewX(15) scale(1,0.62)" font-family="Liberation Sans" font-size="5.6" font-weight="bold" text-anchor="middle" fill="#111" stroke="#111" stroke-width="0.28">150</text>
<text transform="translate(519.1,182.4) rotate(20) skewX(15) scale(1,0.62)" font-family="Liberation Sans" font-size="5.6" font-weight="bold" text-anchor="middle" fill="#111" stroke="#111" stroke-width="0.28">160</text>
<text transform="translate(531.4,176.2) rotate(20) skewX(15) scale(1,0.62)" font-family="Liberation Sans" font-size="5.6" font-weight="bold" text-anchor="middle" fill="#111" stroke="#111" stroke-width="0.28">170</text>
<text transform="translate(542.8,169.6) rotate(20) skewX(15) scale(1,0.62)" font-family="Liberation Sans" font-size="5.6" font-weight="bold" text-anchor="middle" fill="#111" stroke="#111" stroke-width="0.28">180</text>
<text transform="translate(368.5,197.0) rotate(19) skewX(-12) scale(1,0.7)" font-family="Liberation Sans" font-size="7.0" font-weight="bold" text-anchor="middle" fill="#222" stroke="#222" stroke-width="0.15">X_basic</text>
<text transform="translate(517.5,192.2) rotate(-22) skewX(-10) scale(1,0.8)" font-family="Liberation Sans" font-size="6.3" font-weight="bold" text-anchor="middle" fill="#222" stroke="#222" stroke-width="0.12">Tsource [°C]</text>
<text transform="translate(306.5,102.2) rotate(-90)" font-family="Liberation Sans" font-size="8.2" font-weight="bold" text-anchor="middle" fill="#222">m_H2 [kg/s]</text>
<polyline points="349.8,165.6 358.7,154.2 367.6,145.8 377.3,138.7 386.7,133.8 397.4,130.5 407.6,128.0 418.5,125.4 428.7,123.4 441.8,120.9" fill="none" stroke="#f8c8e8" stroke-width="7" stroke-linejoin="round" opacity="0.45"/>
<polyline points="406.5,77.1 415.8,71.9 425.4,68.2 435.4,66.7 445.1,65.6 455.3,65.4 466.0,65.1 476.9,64.6 488.4,63.9 499.8,63.1" fill="none" stroke="#f8c8f0" stroke-width="7" stroke-linejoin="round" opacity="0.45"/>
<polyline points="432.4,26.0 441.8,22.4 451.2,20.4 460.9,20.4 471.0,21.6 481.8,22.4 492.2,22.9 503.1,22.9 514.3,22.1 526.3,20.9" fill="none" stroke="#c8f4f0" stroke-width="7" stroke-linejoin="round" opacity="0.45"/>
<polyline points="349.8,165.6 358.7,154.2 367.6,145.8 377.3,138.7 386.7,133.8 397.4,130.5 407.6,128.0 418.5,125.4 428.7,123.4 441.8,120.9" fill="none" stroke="#8c3b1c" stroke-width="1.3" stroke-linejoin="round"/>
<circle cx="349.8" cy="165.6" r="2.1" fill="url(#g_brown)" stroke="#4a2a10" stroke-width="0.3"/>
<circle cx="358.7" cy="154.2" r="2.1" fill="url(#g_brown)" stroke="#4a2a10" stroke-width="0.3"/>
<circle cx="367.6" cy="145.8" r="2.1" fill="url(#g_brown)" stroke="#4a2a10" stroke-width="0.3"/>
<circle cx="377.3" cy="138.7" r="2.1" fill="url(#g_brown)" stroke="#4a2a10" stroke-width="0.3"/>
<circle cx="386.7" cy="133.8" r="2.1" fill="url(#g_brown)" stroke="#4a2a10" stroke-width="0.3"/>
<circle cx="397.4" cy="130.5" r="2.1" fill="url(#g_brown)" stroke="#4a2a10" stroke-width="0.3"/>
<circle cx="407.6" cy="128.0" r="2.1" fill="url(#g_brown)" stroke="#4a2a10" stroke-width="0.3"/>
<circle cx="418.5" cy="125.4" r="2.1" fill="url(#g_brown)" stroke="#4a2a10" stroke-width="0.3"/>
<circle cx="428.7" cy="123.4" r="2.1" fill="url(#g_brown)" stroke="#4a2a10" stroke-width="0.3"/>
<circle cx="441.8" cy="120.9" r="2.1" fill="url(#g_brown)" stroke="#4a2a10" stroke-width="0.3"/>
<polyline points="379.0,119.8 388.0,111.5 397.0,106.4 407.0,103.0 417.1,100.3 427.3,98.2 438.0,97.0 448.9,95.9 460.4,94.7 471.8,93.4" fill="none" stroke="#1e1eb8" stroke-width="1.3" stroke-linejoin="round"/>
<circle cx="379.0" cy="119.8" r="2.1" fill="url(#g_blue)" stroke="#0a0a70" stroke-width="0.3"/>
<circle cx="388.0" cy="111.5" r="2.1" fill="url(#g_blue)" stroke="#0a0a70" stroke-width="0.3"/>
<circle cx="397.0" cy="106.4" r="2.1" fill="url(#g_blue)" stroke="#0a0a70" stroke-width="0.3"/>
<circle cx="407.0" cy="103.0" r="2.1" fill="url(#g_blue)" stroke="#0a0a70" stroke-width="0.3"/>
<circle cx="417.1" cy="100.3" r="2.1" fill="url(#g_blue)" stroke="#0a0a70" stroke-width="0.3"/>
<circle cx="427.3" cy="98.2" r="2.1" fill="url(#g_blue)" stroke="#0a0a70" stroke-width="0.3"/>
<circle cx="438.0" cy="97.0" r="2.1" fill="url(#g_blue)" stroke="#0a0a70" stroke-width="0.3"/>
<circle cx="448.9" cy="95.9" r="2.1" fill="url(#g_blue)" stroke="#0a0a70" stroke-width="0.3"/>
<circle cx="460.4" cy="94.7" r="2.1" fill="url(#g_blue)" stroke="#0a0a70" stroke-width="0.3"/>
<circle cx="471.8" cy="93.4" r="2.1" fill="url(#g_blue)" stroke="#0a0a70" stroke-width="0.3"/>
<polyline points="406.5,77.1 415.8,71.9 425.4,68.2 435.4,66.7 445.1,65.6 455.3,65.4 466.0,65.1 476.9,64.6 488.4,63.9 499.8,63.1" fill="none" stroke="#9c4ae0" stroke-width="1.3" stroke-linejoin="round"/>
<circle cx="406.5" cy="77.1" r="2.1" fill="url(#g_purple)" stroke="#50188a" stroke-width="0.3"/>
<circle cx="415.8" cy="71.9" r="2.1" fill="url(#g_purple)" stroke="#50188a" stroke-width="0.3"/>
<circle cx="425.4" cy="68.2" r="2.1" fill="url(#g_purple)" stroke="#50188a" stroke-width="0.3"/>
<circle cx="435.4" cy="66.7" r="2.1" fill="url(#g_purple)" stroke="#50188a" stroke-width="0.3"/>
<circle cx="445.1" cy="65.6" r="2.1" fill="url(#g_purple)" stroke="#50188a" stroke-width="0.3"/>
<circle cx="455.3" cy="65.4" r="2.1" fill="url(#g_purple)" stroke="#50188a" stroke-width="0.3"/>
<circle cx="466.0" cy="65.1" r="2.1" fill="url(#g_purple)" stroke="#50188a" stroke-width="0.3"/>
<circle cx="476.9" cy="64.6" r="2.1" fill="url(#g_purple)" stroke="#50188a" stroke-width="0.3"/>
<circle cx="488.4" cy="63.9" r="2.1" fill="url(#g_purple)" stroke="#50188a" stroke-width="0.3"/>
<circle cx="499.8" cy="63.1" r="2.1" fill="url(#g_purple)" stroke="#50188a" stroke-width="0.3"/>
<polyline points="432.4,26.0 441.8,22.4 451.2,20.4 460.9,20.4 471.0,21.6 481.8,22.4 492.2,22.9 503.1,22.9 514.3,22.1 526.3,20.9" fill="none" stroke="#3c7020" stroke-width="1.3" stroke-linejoin="round"/>
<circle cx="432.4" cy="26.0" r="2.1" fill="url(#g_green)" stroke="#1e4010" stroke-width="0.3"/>
<circle cx="441.8" cy="22.4" r="2.1" fill="url(#g_green)" stroke="#1e4010" stroke-width="0.3"/>
<circle cx="451.2" cy="20.4" r="2.1" fill="url(#g_green)" stroke="#1e4010" stroke-width="0.3"/>
<circle cx="460.9" cy="20.4" r="2.1" fill="url(#g_green)" stroke="#1e4010" stroke-width="0.3"/>
<circle cx="471.0" cy="21.6" r="2.1" fill="url(#g_green)" stroke="#1e4010" stroke-width="0.3"/>
<circle cx="481.8" cy="22.4" r="2.1" fill="url(#g_green)" stroke="#1e4010" stroke-width="0.3"/>
<circle cx="492.2" cy="22.9" r="2.1" fill="url(#g_green)" stroke="#1e4010" stroke-width="0.3"/>
<circle cx="503.1" cy="22.9" r="2.1" fill="url(#g_green)" stroke="#1e4010" stroke-width="0.3"/>
<circle cx="514.3" cy="22.1" r="2.1" fill="url(#g_green)" stroke="#1e4010" stroke-width="0.3"/>
<circle cx="526.3" cy="20.9" r="2.1" fill="url(#g_green)" stroke="#1e4010" stroke-width="0.3"/>
<line x1="39.0" y1="409.8" x2="149.7" y2="371.7" stroke="#e0e0e0" stroke-width="0.5"/>
<line x1="149.7" y1="371.7" x2="275.9" y2="403.7" stroke="#e0e0e0" stroke-width="0.5"/>
<line x1="37.7" y1="375.9" x2="149.7" y2="342.5" stroke="#e0e0e0" stroke-width="0.5"/>
<line x1="149.7" y1="342.5" x2="277.4" y2="370.8" stroke="#e0e0e0" stroke-width="0.5"/>
<line x1="36.4" y1="341.9" x2="149.7" y2="313.2" stroke="#e0e0e0" stroke-width="0.5"/>
<line x1="149.7" y1="313.2" x2="278.8" y2="337.9" stroke="#e0e0e0" stroke-width="0.5"/>
<line x1="35.0" y1="307.9" x2="149.7" y2="284.0" stroke="#e0e0e0" stroke-width="0.5"/>
<line x1="149.7" y1="284.0" x2="280.3" y2="305.0" stroke="#e0e0e0" stroke-width="0.5"/>
<line x1="33.7" y1="274.0" x2="149.7" y2="254.7" stroke="#e0e0e0" stroke-width="0.5"/>
<line x1="149.7" y1="254.7" x2="281.8" y2="272.0" stroke="#e0e0e0" stroke-width="0.5"/>
<line x1="50.4" y1="415.5" x2="44.8" y2="257.5" stroke="#e0e0e0" stroke-width="0.5"/>
<line x1="71.4" y1="408.0" x2="66.9" y2="254.2" stroke="#e0e0e0" stroke-width="0.5"/>
<line x1="92.3" y1="400.5" x2="89.1" y2="250.9" stroke="#e0e0e0" stroke-width="0.5"/>
<line x1="113.3" y1="393.0" x2="111.2" y2="247.7" stroke="#e0e0e0" stroke-width="0.5"/>
<line x1="134.3" y1="385.5" x2="133.4" y2="244.4" stroke="#e0e0e0" stroke-width="0.5"/>
<line x1="52.5" y1="424.0" x2="162.3" y2="383.3" stroke="#e4e4e4" stroke-width="0.5"/>
<line x1="77.5" y1="432.7" x2="186.2" y2="389.6" stroke="#e4e4e4" stroke-width="0.5"/>
<line x1="102.4" y1="441.5" x2="210.1" y2="395.8" stroke="#e4e4e4" stroke-width="0.5"/>
<line x1="127.4" y1="450.2" x2="234.0" y2="402.1" stroke="#e4e4e4" stroke-width="0.5"/>
<line x1="152.3" y1="459.0" x2="257.9" y2="408.4" stroke="#e4e4e4" stroke-width="0.5"/>
<line x1="161.7" y1="383.1" x2="162.3" y2="243.5" stroke="#e0e0e0" stroke-width="0.5"/>
<line x1="49.9" y1="415.7" x2="180.7" y2="460.4" stroke="#e4e4e4" stroke-width="0.5"/>
<line x1="184.3" y1="389.1" x2="186.2" y2="246.3" stroke="#e0e0e0" stroke-width="0.5"/>
<line x1="69.7" y1="408.6" x2="199.5" y2="451.0" stroke="#e4e4e4" stroke-width="0.5"/>
<line x1="208.8" y1="395.5" x2="212.1" y2="249.4" stroke="#e0e0e0" stroke-width="0.5"/>
<line x1="91.2" y1="400.9" x2="220.0" y2="440.8" stroke="#e4e4e4" stroke-width="0.5"/>
<line x1="233.4" y1="401.9" x2="237.9" y2="252.4" stroke="#e0e0e0" stroke-width="0.5"/>
<line x1="112.7" y1="393.2" x2="240.4" y2="430.6" stroke="#e4e4e4" stroke-width="0.5"/>
<line x1="259.8" y1="408.9" x2="265.8" y2="255.7" stroke="#e0e0e0" stroke-width="0.5"/>
<line x1="135.9" y1="384.9" x2="262.4" y2="419.6" stroke="#e4e4e4" stroke-width="0.5"/>
<line x1="33.1" y1="259.2" x2="149.7" y2="242.0" stroke="#a8a8a8" stroke-width="0.6"/>
<line x1="149.7" y1="242.0" x2="282.4" y2="257.7" stroke="#a8a8a8" stroke-width="0.6"/>
<line x1="149.7" y1="380.0" x2="149.7" y2="242.0" stroke="#a8a8a8" stroke-width="0.6"/>
<line x1="275.5" y1="413.0" x2="282.4" y2="257.7" stroke="#a8a8a8" stroke-width="0.6"/>
<line x1="39.4" y1="419.4" x2="149.7" y2="380.0" stroke="#888" stroke-width="0.6"/>
<line x1="149.7" y1="380.0" x2="275.5" y2="413.0" stroke="#888" stroke-width="0.6"/>
<line x1="39.4" y1="419.4" x2="33.1" y2="259.2" stroke="#333333" stroke-width="0.8"/>
<line x1="39.4" y1="419.4" x2="170.7" y2="465.4" stroke="#333333" stroke-width="0.8"/>
<line x1="170.7" y1="465.4" x2="275.5" y2="413.0" stroke="#333333" stroke-width="0.8"/>
<line x1="39.0" y1="409.8" x2="36.8" y2="410.1" stroke="#333333" stroke-width="0.6"/>
<line x1="37.7" y1="375.9" x2="35.5" y2="376.2" stroke="#333333" stroke-width="0.6"/>
<line x1="36.4" y1="341.9" x2="34.2" y2="342.2" stroke="#333333" stroke-width="0.6"/>
<line x1="35.0" y1="307.9" x2="32.8" y2="308.2" stroke="#333333" stroke-width="0.6"/>
<line x1="33.7" y1="274.0" x2="31.5" y2="274.3" stroke="#333333" stroke-width="0.6"/>
<line x1="38.4" y1="392.8" x2="37.1" y2="393.0" stroke="#333333" stroke-width="0.5"/>
<line x1="37.0" y1="358.9" x2="35.7" y2="359.1" stroke="#333333" stroke-width="0.5"/>
<line x1="35.7" y1="324.9" x2="34.4" y2="325.1" stroke="#333333" stroke-width="0.5"/>
<line x1="34.3" y1="291.0" x2="33.0" y2="291.2" stroke="#333333" stroke-width="0.5"/>
<text transform="translate(35.4,412.8) rotate(-9) skewX(-4)" font-family="Liberation Sans" font-size="5.9" font-weight="bold" text-anchor="end" fill="#000" stroke="#000" stroke-width="0.3">0.0060</text>
<text transform="translate(34.1,378.9) rotate(-9) skewX(-4)" font-family="Liberation Sans" font-size="5.9" font-weight="bold" text-anchor="end" fill="#000" stroke="#000" stroke-width="0.3">0.0065</text>
<text transform="translate(32.8,344.9) rotate(-9) skewX(-4)" font-family="Liberation Sans" font-size="5.9" font-weight="bold" text-anchor="end" fill="#000" stroke="#000" stroke-width="0.3">0.0070</text>
<text transform="translate(31.4,310.9) rotate(-9) skewX(-4)" font-family="Liberation Sans" font-size="5.9" font-weight="bold" text-anchor="end" fill="#000" stroke="#000" stroke-width="0.3">0.0075</text>
<text transform="translate(30.1,277.0) rotate(-9) skewX(-4)" font-family="Liberation Sans" font-size="5.9" font-weight="bold" text-anchor="end" fill="#000" stroke="#000" stroke-width="0.3">0.0080</text>
<line x1="44.7" y1="421.2" x2="43.5" y2="423.4" stroke="#333333" stroke-width="0.6"/>
<line x1="68.3" y1="429.5" x2="67.1" y2="431.7" stroke="#333333" stroke-width="0.6"/>
<line x1="94.5" y1="438.7" x2="93.3" y2="440.9" stroke="#333333" stroke-width="0.6"/>
<line x1="122.1" y1="448.4" x2="120.9" y2="450.6" stroke="#333333" stroke-width="0.6"/>
<line x1="152.3" y1="459.0" x2="151.1" y2="461.2" stroke="#333333" stroke-width="0.6"/>
<text transform="translate(42.3,427.9) rotate(-17) skewX(-15) scale(1,0.62)" font-family="Liberation Sans" font-size="5.8" font-weight="bold" text-anchor="middle" fill="#111" stroke="#111" stroke-width="0.28">0.5</text>
<text transform="translate(65.5,437.5) rotate(-17) skewX(-15) scale(1,0.62)" font-family="Liberation Sans" font-size="5.8" font-weight="bold" text-anchor="middle" fill="#111" stroke="#111" stroke-width="0.28">0.6</text>
<text transform="translate(94.1,445.6) rotate(-17) skewX(-15) scale(1,0.62)" font-family="Liberation Sans" font-size="5.8" font-weight="bold" text-anchor="middle" fill="#111" stroke="#111" stroke-width="0.28">0.7</text>
<text transform="translate(118.6,454.6) rotate(-17) skewX(-15) scale(1,0.62)" font-family="Liberation Sans" font-size="5.8" font-weight="bold" text-anchor="middle" fill="#111" stroke="#111" stroke-width="0.28">0.8</text>
<text transform="translate(145.9,465.0) rotate(-17) skewX(-15) scale(1,0.62)" font-family="Liberation Sans" font-size="5.8" font-weight="bold" text-anchor="middle" fill="#111" stroke="#111" stroke-width="0.28">0.9</text>
<line x1="181.2" y1="460.2" x2="182.8" y2="461.8" stroke="#333333" stroke-width="0.6"/>
<line x1="191.7" y1="454.9" x2="193.3" y2="456.5" stroke="#333333" stroke-width="0.6"/>
<line x1="202.1" y1="449.7" x2="203.7" y2="451.3" stroke="#333333" stroke-width="0.6"/>
<line x1="212.6" y1="444.4" x2="214.2" y2="446.0" stroke="#333333" stroke-width="0.6"/>
<line x1="223.1" y1="439.2" x2="224.7" y2="440.8" stroke="#333333" stroke-width="0.6"/>
<line x1="233.6" y1="434.0" x2="235.2" y2="435.6" stroke="#333333" stroke-width="0.6"/>
<line x1="244.1" y1="428.7" x2="245.7" y2="430.3" stroke="#333333" stroke-width="0.6"/>
<line x1="254.5" y1="423.5" x2="256.1" y2="425.1" stroke="#333333" stroke-width="0.6"/>
<line x1="265.0" y1="418.2" x2="266.6" y2="419.8" stroke="#333333" stroke-width="0.6"/>
<line x1="275.5" y1="413.0" x2="277.1" y2="414.6" stroke="#333333" stroke-width="0.6"/>
<text transform="translate(192.5,467.0) rotate(20) skewX(15) scale(1,0.62)" font-family="Liberation Sans" font-size="6.0" font-weight="bold" text-anchor="middle" fill="#111" stroke="#111" stroke-width="0.28">1400</text>
<text transform="translate(203.1,461.4) rotate(20) skewX(15) scale(1,0.62)" font-family="Liberation Sans" font-size="6.0" font-weight="bold" text-anchor="middle" fill="#111" stroke="#111" stroke-width="0.28">1600</text>
<text transform="translate(213.6,455.9) rotate(20) skewX(15) scale(1,0.62)" font-family="Liberation Sans" font-size="6.0" font-weight="bold" text-anchor="middle" fill="#111" stroke="#111" stroke-width="0.28">1800</text>
<text transform="translate(224.2,450.3) rotate(20) skewX(15) scale(1,0.62)" font-family="Liberation Sans" font-size="6.0" font-weight="bold" text-anchor="middle" fill="#111" stroke="#111" stroke-width="0.28">2000</text>
<text transform="translate(234.7,444.8) rotate(20) skewX(15) scale(1,0.62)" font-family="Liberation Sans" font-size="6.0" font-weight="bold" text-anchor="middle" fill="#111" stroke="#111" stroke-width="0.28">2200</text>
<text transform="translate(245.3,439.2) rotate(20) skewX(15) scale(1,0.62)" font-family="Liberation Sans" font-size="6.0" font-weight="bold" text-anchor="middle" fill="#111" stroke="#111" stroke-width="0.28">2400</text>
<text transform="translate(255.8,433.7) rotate(20) skewX(15) scale(1,0.62)" font-family="Liberation Sans" font-size="6.0" font-weight="bold" text-anchor="middle" fill="#111" stroke="#111" stroke-width="0.28">2600</text>
<text transform="translate(266.4,428.1) rotate(20) skewX(15) scale(1,0.62)" font-family="Liberation Sans" font-size="6.0" font-weight="bold" text-anchor="middle" fill="#111" stroke="#111" stroke-width="0.28">2800</text>
<text transform="translate(276.9,422.6) rotate(20) skewX(15) scale(1,0.62)" font-family="Liberation Sans" font-size="6.0" font-weight="bold" text-anchor="middle" fill="#111" stroke="#111" stroke-width="0.28">3000</text>
<text transform="translate(287.5,417.0) rotate(20) skewX(15) scale(1,0.62)" font-family="Liberation Sans" font-size="6.0" font-weight="bold" text-anchor="middle" fill="#111" stroke="#111" stroke-width="0.28">3200</text>
<text transform="translate(83.2,449.5) rotate(19) skewX(-12) scale(1,0.7)" font-family="Liberation Sans" font-size="7.0" font-weight="bold" text-anchor="middle" fill="#222" stroke="#222" stroke-width="0.15">X_basic</text>
<text transform="translate(253.5,446.5) rotate(-26) skewX(-10) scale(1,0.8)" font-family="Liberation Sans" font-size="6.3" font-weight="bold" text-anchor="middle" fill="#222" stroke="#222" stroke-width="0.12">p_high [kPa]</text>
<text transform="translate(13.0,349.4) rotate(-90)" font-family="Liberation Sans" font-size="8.7" font-weight="bold" text-anchor="middle" fill="#222">m_H2 [kg/s]</text>
<polyline points="62.3,344.5 72.5,344.1 84.0,347.4 94.7,354.8 106.9,363.7 118.3,373.0 130.5,383.2 143.1,393.0 155.8,402.0 168.8,411.0" fill="none" stroke="#f8c8e8" stroke-width="7" stroke-linejoin="round" opacity="0.45"/>
<polyline points="124.2,362.4 134.0,346.0 145.4,333.6 156.1,324.6 167.4,317.3 179.2,311.7 191.3,306.9 204.0,302.1 217.2,297.6 229.9,292.2" fill="none" stroke="#f8c8f0" stroke-width="7" stroke-linejoin="round" opacity="0.45"/>
<polyline points="151.0,377.2 161.6,356.0 172.1,338.5 182.6,324.6 193.8,311.7 204.6,302.1 217.8,291.4 230.8,281.5 243.2,271.6 256.7,261.8" fill="none" stroke="#c8f4f0" stroke-width="7" stroke-linejoin="round" opacity="0.45"/>
<polyline points="62.3,344.5 72.5,344.1 84.0,347.4 94.7,354.8 106.9,363.7 118.3,373.0 130.5,383.2 143.1,393.0 155.8,402.0 168.8,411.0" fill="none" stroke="#8c3b1c" stroke-width="1.3" stroke-linejoin="round"/>
<circle cx="62.3" cy="344.5" r="2.1" fill="url(#g_brown)" stroke="#4a2a10" stroke-width="0.3"/>
<circle cx="72.5" cy="344.1" r="2.1" fill="url(#g_brown)" stroke="#4a2a10" stroke-width="0.3"/>
<circle cx="84.0" cy="347.4" r="2.1" fill="url(#g_brown)" stroke="#4a2a10" stroke-width="0.3"/>
<circle cx="94.7" cy="354.8" r="2.1" fill="url(#g_brown)" stroke="#4a2a10" stroke-width="0.3"/>
<circle cx="106.9" cy="363.7" r="2.1" fill="url(#g_brown)" stroke="#4a2a10" stroke-width="0.3"/>
<circle cx="118.3" cy="373.0" r="2.1" fill="url(#g_brown)" stroke="#4a2a10" stroke-width="0.3"/>
<circle cx="130.5" cy="383.2" r="2.1" fill="url(#g_brown)" stroke="#4a2a10" stroke-width="0.3"/>
<circle cx="143.1" cy="393.0" r="2.1" fill="url(#g_brown)" stroke="#4a2a10" stroke-width="0.3"/>
<circle cx="155.8" cy="402.0" r="2.1" fill="url(#g_brown)" stroke="#4a2a10" stroke-width="0.3"/>
<circle cx="168.8" cy="411.0" r="2.1" fill="url(#g_brown)" stroke="#4a2a10" stroke-width="0.3"/>
<polyline points="94.1,350.5 104.3,340.5 115.8,334.2 126.4,332.4 137.5,332.2 149.6,333.1 161.7,334.5 174.4,335.9 187.6,337.3 201.7,338.7" fill="none" stroke="#1e1eb8" stroke-width="1.3" stroke-linejoin="round"/>
<circle cx="94.1" cy="350.5" r="2.1" fill="url(#g_blue)" stroke="#0a0a70" stroke-width="0.3"/>
<circle cx="104.3" cy="340.5" r="2.1" fill="url(#g_blue)" stroke="#0a0a70" stroke-width="0.3"/>
<circle cx="115.8" cy="334.2" r="2.1" fill="url(#g_blue)" stroke="#0a0a70" stroke-width="0.3"/>
<circle cx="126.4" cy="332.4" r="2.1" fill="url(#g_blue)" stroke="#0a0a70" stroke-width="0.3"/>
<circle cx="137.5" cy="332.2" r="2.1" fill="url(#g_blue)" stroke="#0a0a70" stroke-width="0.3"/>
<circle cx="149.6" cy="333.1" r="2.1" fill="url(#g_blue)" stroke="#0a0a70" stroke-width="0.3"/>
<circle cx="161.7" cy="334.5" r="2.1" fill="url(#g_blue)" stroke="#0a0a70" stroke-width="0.3"/>
<circle cx="174.4" cy="335.9" r="2.1" fill="url(#g_blue)" stroke="#0a0a70" stroke-width="0.3"/>
<circle cx="187.6" cy="337.3" r="2.1" fill="url(#g_blue)" stroke="#0a0a70" stroke-width="0.3"/>
<circle cx="201.7" cy="338.7" r="2.1" fill="url(#g_blue)" stroke="#0a0a70" stroke-width="0.3"/>
<polyline points="124.2,362.4 134.0,346.0 145.4,333.6 156.1,324.6 167.4,317.3 179.2,311.7 191.3,306.9 204.0,302.1 217.2,297.6 229.9,292.2" fill="none" stroke="#9c4ae0" stroke-width="1.3" stroke-linejoin="round"/>
<circle cx="124.2" cy="362.4" r="2.1" fill="url(#g_purple)" stroke="#50188a" stroke-width="0.3"/>
<circle cx="134.0" cy="346.0" r="2.1" fill="url(#g_purple)" stroke="#50188a" stroke-width="0.3"/>
<circle cx="145.4" cy="333.6" r="2.1" fill="url(#g_purple)" stroke="#50188a" stroke-width="0.3"/>
<circle cx="156.1" cy="324.6" r="2.1" fill="url(#g_purple)" stroke="#50188a" stroke-width="0.3"/>
<circle cx="167.4" cy="317.3" r="2.1" fill="url(#g_purple)" stroke="#50188a" stroke-width="0.3"/>
<circle cx="179.2" cy="311.7" r="2.1" fill="url(#g_purple)" stroke="#50188a" stroke-width="0.3"/>
<circle cx="191.3" cy="306.9" r="2.1" fill="url(#g_purple)" stroke="#50188a" stroke-width="0.3"/>
<circle cx="204.0" cy="302.1" r="2.1" fill="url(#g_purple)" stroke="#50188a" stroke-width="0.3"/>
<circle cx="217.2" cy="297.6" r="2.1" fill="url(#g_purple)" stroke="#50188a" stroke-width="0.3"/>
<circle cx="229.9" cy="292.2" r="2.1" fill="url(#g_purple)" stroke="#50188a" stroke-width="0.3"/>
<polyline points="151.0,377.2 161.6,356.0 172.1,338.5 182.6,324.6 193.8,311.7 204.6,302.1 217.8,291.4 230.8,281.5 243.2,271.6 256.7,261.8" fill="none" stroke="#3c7020" stroke-width="1.3" stroke-linejoin="round"/>
<circle cx="151.0" cy="377.2" r="2.1" fill="url(#g_green)" stroke="#1e4010" stroke-width="0.3"/>
<circle cx="161.6" cy="356.0" r="2.1" fill="url(#g_green)" stroke="#1e4010" stroke-width="0.3"/>
<circle cx="172.1" cy="338.5" r="2.1" fill="url(#g_green)" stroke="#1e4010" stroke-width="0.3"/>
<circle cx="182.6" cy="324.6" r="2.1" fill="url(#g_green)" stroke="#1e4010" stroke-width="0.3"/>
<circle cx="193.8" cy="311.7" r="2.1" fill="url(#g_green)" stroke="#1e4010" stroke-width="0.3"/>
<circle cx="204.6" cy="302.1" r="2.1" fill="url(#g_green)" stroke="#1e4010" stroke-width="0.3"/>
<circle cx="217.8" cy="291.4" r="2.1" fill="url(#g_green)" stroke="#1e4010" stroke-width="0.3"/>
<circle cx="230.8" cy="281.5" r="2.1" fill="url(#g_green)" stroke="#1e4010" stroke-width="0.3"/>
<circle cx="243.2" cy="271.6" r="2.1" fill="url(#g_green)" stroke="#1e4010" stroke-width="0.3"/>
<circle cx="256.7" cy="261.8" r="2.1" fill="url(#g_green)" stroke="#1e4010" stroke-width="0.3"/>
<line x1="331.2" y1="410.3" x2="423.6" y2="375.0" stroke="#e0e0e0" stroke-width="0.5"/>
<line x1="423.6" y1="375.0" x2="526.7" y2="403.6" stroke="#e0e0e0" stroke-width="0.5"/>
<line x1="330.4" y1="391.5" x2="423.5" y2="358.7" stroke="#e0e0e0" stroke-width="0.5"/>
<line x1="423.5" y1="358.7" x2="527.7" y2="385.3" stroke="#e0e0e0" stroke-width="0.5"/>
<line x1="329.7" y1="372.7" x2="423.5" y2="342.5" stroke="#e0e0e0" stroke-width="0.5"/>
<line x1="423.5" y1="342.5" x2="528.7" y2="367.0" stroke="#e0e0e0" stroke-width="0.5"/>
<line x1="328.9" y1="353.9" x2="423.4" y2="326.3" stroke="#e0e0e0" stroke-width="0.5"/>
<line x1="423.4" y1="326.3" x2="529.7" y2="348.7" stroke="#e0e0e0" stroke-width="0.5"/>
<line x1="328.1" y1="335.1" x2="423.4" y2="310.1" stroke="#e0e0e0" stroke-width="0.5"/>
<line x1="423.4" y1="310.1" x2="530.7" y2="330.4" stroke="#e0e0e0" stroke-width="0.5"/>
<line x1="327.4" y1="316.4" x2="423.3" y2="293.9" stroke="#e0e0e0" stroke-width="0.5"/>
<line x1="423.3" y1="293.9" x2="531.7" y2="312.1" stroke="#e0e0e0" stroke-width="0.5"/>
<line x1="326.6" y1="297.6" x2="423.3" y2="277.7" stroke="#e0e0e0" stroke-width="0.5"/>
<line x1="423.3" y1="277.7" x2="532.7" y2="293.8" stroke="#e0e0e0" stroke-width="0.5"/>
<line x1="325.8" y1="278.8" x2="423.2" y2="261.5" stroke="#e0e0e0" stroke-width="0.5"/>
<line x1="423.2" y1="261.5" x2="533.7" y2="275.5" stroke="#e0e0e0" stroke-width="0.5"/>
<line x1="337.2" y1="408.4" x2="331.9" y2="269.3" stroke="#e0e0e0" stroke-width="0.5"/>
<line x1="347.4" y1="404.5" x2="342.6" y2="267.5" stroke="#e0e0e0" stroke-width="0.5"/>
<line x1="358.0" y1="400.4" x2="353.8" y2="265.6" stroke="#e0e0e0" stroke-width="0.5"/>
<line x1="368.2" y1="396.5" x2="364.6" y2="263.9" stroke="#e0e0e0" stroke-width="0.5"/>
<line x1="378.8" y1="392.5" x2="375.8" y2="262.0" stroke="#e0e0e0" stroke-width="0.5"/>
<line x1="389.4" y1="388.4" x2="387.1" y2="260.2" stroke="#e0e0e0" stroke-width="0.5"/>
<line x1="400.0" y1="384.3" x2="398.3" y2="258.3" stroke="#e0e0e0" stroke-width="0.5"/>
<line x1="410.2" y1="380.4" x2="409.0" y2="256.5" stroke="#e0e0e0" stroke-width="0.5"/>
<line x1="338.3" y1="413.3" x2="430.3" y2="377.2" stroke="#e4e4e4" stroke-width="0.5"/>
<line x1="350.3" y1="417.7" x2="441.6" y2="380.3" stroke="#e4e4e4" stroke-width="0.5"/>
<line x1="362.9" y1="422.4" x2="453.5" y2="383.6" stroke="#e4e4e4" stroke-width="0.5"/>
<line x1="374.9" y1="426.8" x2="464.8" y2="386.8" stroke="#e4e4e4" stroke-width="0.5"/>
<line x1="387.5" y1="431.4" x2="476.7" y2="390.1" stroke="#e4e4e4" stroke-width="0.5"/>
<line x1="400.1" y1="436.0" x2="488.6" y2="393.4" stroke="#e4e4e4" stroke-width="0.5"/>
<line x1="412.6" y1="440.6" x2="500.4" y2="396.7" stroke="#e4e4e4" stroke-width="0.5"/>
<line x1="424.7" y1="445.1" x2="511.8" y2="399.8" stroke="#e4e4e4" stroke-width="0.5"/>
<line x1="433.4" y1="378.0" x2="433.7" y2="255.4" stroke="#e0e0e0" stroke-width="0.5"/>
<line x1="340.0" y1="407.3" x2="448.7" y2="446.4" stroke="#e4e4e4" stroke-width="0.5"/>
<line x1="452.0" y1="383.2" x2="453.7" y2="257.8" stroke="#e0e0e0" stroke-width="0.5"/>
<line x1="356.6" y1="401.0" x2="464.2" y2="438.0" stroke="#e4e4e4" stroke-width="0.5"/>
<line x1="472.1" y1="388.8" x2="475.4" y2="260.4" stroke="#e0e0e0" stroke-width="0.5"/>
<line x1="374.6" y1="394.1" x2="481.0" y2="428.9" stroke="#e4e4e4" stroke-width="0.5"/>
<line x1="492.2" y1="394.4" x2="497.0" y2="262.9" stroke="#e0e0e0" stroke-width="0.5"/>
<line x1="392.6" y1="387.2" x2="497.8" y2="419.7" stroke="#e4e4e4" stroke-width="0.5"/>
<line x1="513.8" y1="400.4" x2="520.3" y2="265.7" stroke="#e0e0e0" stroke-width="0.5"/>
<line x1="412.1" y1="379.7" x2="515.9" y2="409.9" stroke="#e4e4e4" stroke-width="0.5"/>
<line x1="325.5" y1="270.3" x2="423.2" y2="254.2" stroke="#a8a8a8" stroke-width="0.6"/>
<line x1="423.2" y1="254.2" x2="534.2" y2="267.3" stroke="#a8a8a8" stroke-width="0.6"/>
<line x1="423.6" y1="375.3" x2="423.2" y2="254.2" stroke="#a8a8a8" stroke-width="0.6"/>
<line x1="526.7" y1="404.0" x2="534.2" y2="267.3" stroke="#a8a8a8" stroke-width="0.6"/>
<line x1="331.2" y1="410.7" x2="423.6" y2="375.3" stroke="#888" stroke-width="0.6"/>
<line x1="423.6" y1="375.3" x2="526.7" y2="404.0" stroke="#888" stroke-width="0.6"/>
<line x1="331.2" y1="410.7" x2="325.5" y2="270.3" stroke="#333333" stroke-width="0.8"/>
<line x1="331.2" y1="410.7" x2="440.5" y2="450.9" stroke="#333333" stroke-width="0.8"/>
<line x1="440.5" y1="450.9" x2="526.7" y2="404.0" stroke="#333333" stroke-width="0.8"/>
<line x1="331.2" y1="410.3" x2="329.0" y2="410.6" stroke="#333333" stroke-width="0.6"/>
<line x1="330.4" y1="391.5" x2="328.2" y2="391.8" stroke="#333333" stroke-width="0.6"/>
<line x1="329.7" y1="372.7" x2="327.5" y2="373.0" stroke="#333333" stroke-width="0.6"/>
<line x1="328.9" y1="353.9" x2="326.7" y2="354.2" stroke="#333333" stroke-width="0.6"/>
<line x1="328.1" y1="335.1" x2="325.9" y2="335.4" stroke="#333333" stroke-width="0.6"/>
<line x1="327.4" y1="316.4" x2="325.2" y2="316.7" stroke="#333333" stroke-width="0.6"/>
<line x1="326.6" y1="297.6" x2="324.4" y2="297.9" stroke="#333333" stroke-width="0.6"/>
<line x1="325.8" y1="278.8" x2="323.6" y2="279.1" stroke="#333333" stroke-width="0.6"/>
<line x1="330.8" y1="400.9" x2="329.5" y2="401.1" stroke="#333333" stroke-width="0.5"/>
<line x1="330.0" y1="382.1" x2="328.7" y2="382.3" stroke="#333333" stroke-width="0.5"/>
<line x1="329.3" y1="363.3" x2="328.0" y2="363.5" stroke="#333333" stroke-width="0.5"/>
<line x1="328.5" y1="344.5" x2="327.2" y2="344.7" stroke="#333333" stroke-width="0.5"/>
<line x1="327.8" y1="325.7" x2="326.5" y2="325.9" stroke="#333333" stroke-width="0.5"/>
<line x1="327.0" y1="307.0" x2="325.7" y2="307.2" stroke="#333333" stroke-width="0.5"/>
<line x1="326.2" y1="288.2" x2="324.9" y2="288.4" stroke="#333333" stroke-width="0.5"/>
<text transform="translate(327.6,413.3) rotate(-20) skewX(-4)" font-family="Liberation Sans" font-size="5.5" font-weight="bold" text-anchor="end" fill="#000" stroke="#000" stroke-width="0.3">0.085</text>
<text transform="translate(326.8,394.5) rotate(-20) skewX(-4)" font-family="Liberation Sans" font-size="5.5" font-weight="bold" text-anchor="end" fill="#000" stroke="#000" stroke-width="0.3">0.090</text>
<text transform="translate(326.1,375.7) rotate(-20) skewX(-4)" font-family="Liberation Sans" font-size="5.5" font-weight="bold" text-anchor="end" fill="#000" stroke="#000" stroke-width="0.3">0.095</text>
<text transform="translate(325.3,356.9) rotate(-20) skewX(-4)" font-family="Liberation Sans" font-size="5.5" font-weight="bold" text-anchor="end" fill="#000" stroke="#000" stroke-width="0.3">0.100</text>
<text transform="translate(324.5,338.1) rotate(-20) skewX(-4)" font-family="Liberation Sans" font-size="5.5" font-weight="bold" text-anchor="end" fill="#000" stroke="#000" stroke-width="0.3">0.105</text>
<text transform="translate(323.8,319.4) rotate(-20) skewX(-4)" font-family="Liberation Sans" font-size="5.5" font-weight="bold" text-anchor="end" fill="#000" stroke="#000" stroke-width="0.3">0.110</text>
<text transform="translate(323.0,300.6) rotate(-20) skewX(-4)" font-family="Liberation Sans" font-size="5.5" font-weight="bold" text-anchor="end" fill="#000" stroke="#000" stroke-width="0.3">0.115</text>
<text transform="translate(322.2,281.8) rotate(-20) skewX(-4)" font-family="Liberation Sans" font-size="5.5" font-weight="bold" text-anchor="end" fill="#000" stroke="#000" stroke-width="0.3">0.120</text>
<line x1="335.6" y1="412.3" x2="334.4" y2="414.5" stroke="#333333" stroke-width="0.6"/>
<line x1="355.2" y1="419.5" x2="354.0" y2="421.7" stroke="#333333" stroke-width="0.6"/>
<line x1="377.1" y1="427.6" x2="375.9" y2="429.8" stroke="#333333" stroke-width="0.6"/>
<line x1="400.1" y1="436.0" x2="398.9" y2="438.2" stroke="#333333" stroke-width="0.6"/>
<line x1="425.2" y1="445.3" x2="424.0" y2="447.5" stroke="#333333" stroke-width="0.6"/>
<text transform="translate(335.3,416.8) rotate(-17) skewX(-15) scale(1,0.62)" font-family="Liberation Sans" font-size="5.8" font-weight="bold" text-anchor="middle" fill="#111" stroke="#111" stroke-width="0.28">0.5</text>
<text transform="translate(354.9,425.0) rotate(-17) skewX(-15) scale(1,0.62)" font-family="Liberation Sans" font-size="5.8" font-weight="bold" text-anchor="middle" fill="#111" stroke="#111" stroke-width="0.28">0.6</text>
<text transform="translate(376.5,432.6) rotate(-17) skewX(-15) scale(1,0.62)" font-family="Liberation Sans" font-size="5.8" font-weight="bold" text-anchor="middle" fill="#111" stroke="#111" stroke-width="0.28">0.7</text>
<text transform="translate(398.1,442.3) rotate(-17) skewX(-15) scale(1,0.62)" font-family="Liberation Sans" font-size="5.8" font-weight="bold" text-anchor="middle" fill="#111" stroke="#111" stroke-width="0.28">0.8</text>
<text transform="translate(421.0,451.7) rotate(-17) skewX(-15) scale(1,0.62)" font-family="Liberation Sans" font-size="5.8" font-weight="bold" text-anchor="middle" fill="#111" stroke="#111" stroke-width="0.28">0.9</text>
<line x1="449.1" y1="446.2" x2="450.7" y2="447.8" stroke="#333333" stroke-width="0.6"/>
<line x1="457.7" y1="441.5" x2="459.3" y2="443.1" stroke="#333333" stroke-width="0.6"/>
<line x1="466.4" y1="436.8" x2="468.0" y2="438.4" stroke="#333333" stroke-width="0.6"/>
<line x1="475.0" y1="432.1" x2="476.6" y2="433.7" stroke="#333333" stroke-width="0.6"/>
<line x1="483.6" y1="427.4" x2="485.2" y2="429.1" stroke="#333333" stroke-width="0.6"/>
<line x1="492.2" y1="422.8" x2="493.8" y2="424.4" stroke="#333333" stroke-width="0.6"/>
<line x1="500.8" y1="418.1" x2="502.4" y2="419.7" stroke="#333333" stroke-width="0.6"/>
<line x1="509.5" y1="413.4" x2="511.1" y2="415.0" stroke="#333333" stroke-width="0.6"/>
<line x1="518.1" y1="408.7" x2="519.7" y2="410.3" stroke="#333333" stroke-width="0.6"/>
<line x1="526.7" y1="404.0" x2="528.3" y2="405.6" stroke="#333333" stroke-width="0.6"/>
<text transform="translate(457.6,453.0) rotate(20) skewX(15) scale(1,0.62)" font-family="Liberation Sans" font-size="6.0" font-weight="bold" text-anchor="middle" fill="#111" stroke="#111" stroke-width="0.28">1400</text>
<text transform="translate(466.5,448.0) rotate(20) skewX(15) scale(1,0.62)" font-family="Liberation Sans" font-size="6.0" font-weight="bold" text-anchor="middle" fill="#111" stroke="#111" stroke-width="0.28">1600</text>
<text transform="translate(475.5,443.0) rotate(20) skewX(15) scale(1,0.62)" font-family="Liberation Sans" font-size="6.0" font-weight="bold" text-anchor="middle" fill="#111" stroke="#111" stroke-width="0.28">1800</text>
<text transform="translate(484.4,438.0) rotate(20) skewX(15) scale(1,0.62)" font-family="Liberation Sans" font-size="6.0" font-weight="bold" text-anchor="middle" fill="#111" stroke="#111" stroke-width="0.28">2000</text>
<text transform="translate(493.3,433.0) rotate(20) skewX(15) scale(1,0.62)" font-family="Liberation Sans" font-size="6.0" font-weight="bold" text-anchor="middle" fill="#111" stroke="#111" stroke-width="0.28">2200</text>
<text transform="translate(502.3,428.0) rotate(20) skewX(15) scale(1,0.62)" font-family="Liberation Sans" font-size="6.0" font-weight="bold" text-anchor="middle" fill="#111" stroke="#111" stroke-width="0.28">2400</text>
<text transform="translate(511.2,423.0) rotate(20) skewX(15) scale(1,0.62)" font-family="Liberation Sans" font-size="6.0" font-weight="bold" text-anchor="middle" fill="#111" stroke="#111" stroke-width="0.28">2600</text>
<text transform="translate(520.1,418.0) rotate(20) skewX(15) scale(1,0.62)" font-family="Liberation Sans" font-size="6.0" font-weight="bold" text-anchor="middle" fill="#111" stroke="#111" stroke-width="0.28">2800</text>
<text transform="translate(529.1,413.0) rotate(20) skewX(15) scale(1,0.62)" font-family="Liberation Sans" font-size="6.0" font-weight="bold" text-anchor="middle" fill="#111" stroke="#111" stroke-width="0.28">3000</text>
<text transform="translate(538.0,408.0) rotate(20) skewX(15) scale(1,0.62)" font-family="Liberation Sans" font-size="6.0" font-weight="bold" text-anchor="middle" fill="#111" stroke="#111" stroke-width="0.28">3200</text>
<text transform="translate(368.5,438.3) rotate(19) skewX(-12) scale(1,0.7)" font-family="Liberation Sans" font-size="7.0" font-weight="bold" text-anchor="middle" fill="#222" stroke="#222" stroke-width="0.15">X_basic</text>
<text transform="translate(510.5,432.0) rotate(-26) skewX(-10) scale(1,0.8)" font-family="Liberation Sans" font-size="6.3" font-weight="bold" text-anchor="middle" fill="#222" stroke="#222" stroke-width="0.12">p_high [kPa]</text>
<text transform="translate(310.0,348.6) rotate(-90)" font-family="Liberation Sans" font-size="7.2" font-weight="bold" text-anchor="middle" fill="#222">η_th</text>
<polyline points="347.9,286.8 357.5,303.8 367.3,321.7 377.1,341.6 387.1,361.4 397.1,380.3 407.4,398.2 417.4,415.0 428.4,430.4" fill="none" stroke="#f8c8e8" stroke-width="7" stroke-linejoin="round" opacity="0.45"/>
<polyline points="400.7,269.1 410.1,267.8 419.3,271.0 428.6,276.9 438.5,283.8 448.2,291.7 458.3,299.8 468.5,307.4 478.7,313.8 490.2,320.2" fill="none" stroke="#f8c8f0" stroke-width="7" stroke-linejoin="round" opacity="0.45"/>
<polyline points="424.0,278.2 433.4,269.3 442.6,266.0 452.0,265.4 461.7,267.5 471.8,271.0 481.8,275.6 491.4,279.4 502.1,282.7 513.0,285.8" fill="none" stroke="#c8f4f0" stroke-width="7" stroke-linejoin="round" opacity="0.45"/>
<polyline points="347.9,286.8 357.5,303.8 367.3,321.7 377.1,341.6 387.1,361.4 397.1,380.3 407.4,398.2 417.4,415.0 428.4,430.4" fill="none" stroke="#8c3b1c" stroke-width="1.3" stroke-linejoin="round"/>
<circle cx="347.9" cy="286.8" r="2.1" fill="url(#g_brown)" stroke="#4a2a10" stroke-width="0.3"/>
<circle cx="357.5" cy="303.8" r="2.1" fill="url(#g_brown)" stroke="#4a2a10" stroke-width="0.3"/>
<circle cx="367.3" cy="321.7" r="2.1" fill="url(#g_brown)" stroke="#4a2a10" stroke-width="0.3"/>
<circle cx="377.1" cy="341.6" r="2.1" fill="url(#g_brown)" stroke="#4a2a10" stroke-width="0.3"/>
<circle cx="387.1" cy="361.4" r="2.1" fill="url(#g_brown)" stroke="#4a2a10" stroke-width="0.3"/>
<circle cx="397.1" cy="380.3" r="2.1" fill="url(#g_brown)" stroke="#4a2a10" stroke-width="0.3"/>
<circle cx="407.4" cy="398.2" r="2.1" fill="url(#g_brown)" stroke="#4a2a10" stroke-width="0.3"/>
<circle cx="417.4" cy="415.0" r="2.1" fill="url(#g_brown)" stroke="#4a2a10" stroke-width="0.3"/>
<circle cx="428.4" cy="430.4" r="2.1" fill="url(#g_brown)" stroke="#4a2a10" stroke-width="0.3"/>
<polyline points="375.2,269.8 384.7,276.5 394.3,286.9 403.7,298.9 413.2,311.9 423.2,325.2 433.4,338.0 443.8,349.4 454.5,360.1 465.3,370.3" fill="none" stroke="#1e1eb8" stroke-width="1.3" stroke-linejoin="round"/>
<circle cx="375.2" cy="269.8" r="2.1" fill="url(#g_blue)" stroke="#0a0a70" stroke-width="0.3"/>
<circle cx="384.7" cy="276.5" r="2.1" fill="url(#g_blue)" stroke="#0a0a70" stroke-width="0.3"/>
<circle cx="394.3" cy="286.9" r="2.1" fill="url(#g_blue)" stroke="#0a0a70" stroke-width="0.3"/>
<circle cx="403.7" cy="298.9" r="2.1" fill="url(#g_blue)" stroke="#0a0a70" stroke-width="0.3"/>
<circle cx="413.2" cy="311.9" r="2.1" fill="url(#g_blue)" stroke="#0a0a70" stroke-width="0.3"/>
<circle cx="423.2" cy="325.2" r="2.1" fill="url(#g_blue)" stroke="#0a0a70" stroke-width="0.3"/>
<circle cx="433.4" cy="338.0" r="2.1" fill="url(#g_blue)" stroke="#0a0a70" stroke-width="0.3"/>
<circle cx="443.8" cy="349.4" r="2.1" fill="url(#g_blue)" stroke="#0a0a70" stroke-width="0.3"/>
<circle cx="454.5" cy="360.1" r="2.1" fill="url(#g_blue)" stroke="#0a0a70" stroke-width="0.3"/>
<circle cx="465.3" cy="370.3" r="2.1" fill="url(#g_blue)" stroke="#0a0a70" stroke-width="0.3"/>
<polyline points="400.7,269.1 410.1,267.8 419.3,271.0 428.6,276.9 438.5,283.8 448.2,291.7 458.3,299.8 468.5,307.4 478.7,313.8 490.2,320.2" fill="none" stroke="#9c4ae0" stroke-width="1.3" stroke-linejoin="round"/>
<circle cx="400.7" cy="269.1" r="2.1" fill="url(#g_purple)" stroke="#50188a" stroke-width="0.3"/>
<circle cx="410.1" cy="267.8" r="2.1" fill="url(#g_purple)" stroke="#50188a" stroke-width="0.3"/>
<circle cx="419.3" cy="271.0" r="2.1" fill="url(#g_purple)" stroke="#50188a" stroke-width="0.3"/>
<circle cx="428.6" cy="276.9" r="2.1" fill="url(#g_purple)" stroke="#50188a" stroke-width="0.3"/>
<circle cx="438.5" cy="283.8" r="2.1" fill="url(#g_purple)" stroke="#50188a" stroke-width="0.3"/>
<circle cx="448.2" cy="291.7" r="2.1" fill="url(#g_purple)" stroke="#50188a" stroke-width="0.3"/>
<circle cx="458.3" cy="299.8" r="2.1" fill="url(#g_purple)" stroke="#50188a" stroke-width="0.3"/>
<circle cx="468.5" cy="307.4" r="2.1" fill="url(#g_purple)" stroke="#50188a" stroke-width="0.3"/>
<circle cx="478.7" cy="313.8" r="2.1" fill="url(#g_purple)" stroke="#50188a" stroke-width="0.3"/>
<circle cx="490.2" cy="320.2" r="2.1" fill="url(#g_purple)" stroke="#50188a" stroke-width="0.3"/>
<polyline points="424.0,278.2 433.4,269.3 442.6,266.0 452.0,265.4 461.7,267.5 471.8,271.0 481.8,275.6 491.4,279.4 502.1,282.7 513.0,285.8" fill="none" stroke="#3c7020" stroke-width="1.3" stroke-linejoin="round"/>
<circle cx="424.0" cy="278.2" r="2.1" fill="url(#g_green)" stroke="#1e4010" stroke-width="0.3"/>
<circle cx="433.4" cy="269.3" r="2.1" fill="url(#g_green)" stroke="#1e4010" stroke-width="0.3"/>
<circle cx="442.6" cy="266.0" r="2.1" fill="url(#g_green)" stroke="#1e4010" stroke-width="0.3"/>
<circle cx="452.0" cy="265.4" r="2.1" fill="url(#g_green)" stroke="#1e4010" stroke-width="0.3"/>
<circle cx="461.7" cy="267.5" r="2.1" fill="url(#g_green)" stroke="#1e4010" stroke-width="0.3"/>
<circle cx="471.8" cy="271.0" r="2.1" fill="url(#g_green)" stroke="#1e4010" stroke-width="0.3"/>
<circle cx="481.8" cy="275.6" r="2.1" fill="url(#g_green)" stroke="#1e4010" stroke-width="0.3"/>
<circle cx="491.4" cy="279.4" r="2.1" fill="url(#g_green)" stroke="#1e4010" stroke-width="0.3"/>
<circle cx="502.1" cy="282.7" r="2.1" fill="url(#g_green)" stroke="#1e4010" stroke-width="0.3"/>
<circle cx="513.0" cy="285.8" r="2.1" fill="url(#g_green)" stroke="#1e4010" stroke-width="0.3"/>
<line x1="424.0" y1="278.2" x2="429.6" y2="272.9" stroke="#7a4a1c" stroke-width="1.3"/>
<circle cx="424.0" cy="278.2" r="2.1" fill="url(#g_brown)" stroke="#4a2a10" stroke-width="0.3"/>
<line x1="172.5" y1="665.5" x2="274.2" y2="626.9" stroke="#e0e0e0" stroke-width="0.5"/>
<line x1="274.2" y1="626.9" x2="390.3" y2="658.9" stroke="#e0e0e0" stroke-width="0.5"/>
<line x1="171.6" y1="635.4" x2="274.2" y2="600.7" stroke="#e0e0e0" stroke-width="0.5"/>
<line x1="274.2" y1="600.7" x2="391.6" y2="629.4" stroke="#e0e0e0" stroke-width="0.5"/>
<line x1="170.6" y1="605.3" x2="274.3" y2="574.5" stroke="#e0e0e0" stroke-width="0.5"/>
<line x1="274.3" y1="574.5" x2="392.9" y2="599.9" stroke="#e0e0e0" stroke-width="0.5"/>
<line x1="169.6" y1="575.2" x2="274.3" y2="548.3" stroke="#e0e0e0" stroke-width="0.5"/>
<line x1="274.3" y1="548.3" x2="394.2" y2="570.3" stroke="#e0e0e0" stroke-width="0.5"/>
<line x1="168.6" y1="545.1" x2="274.4" y2="522.1" stroke="#e0e0e0" stroke-width="0.5"/>
<line x1="274.4" y1="522.1" x2="395.5" y2="540.8" stroke="#e0e0e0" stroke-width="0.5"/>
<line x1="167.6" y1="515.0" x2="274.4" y2="495.9" stroke="#e0e0e0" stroke-width="0.5"/>
<line x1="274.4" y1="495.9" x2="396.8" y2="511.3" stroke="#e0e0e0" stroke-width="0.5"/>
<line x1="182.6" y1="657.2" x2="178.0" y2="505.5" stroke="#e0e0e0" stroke-width="0.5"/>
<line x1="201.9" y1="650.0" x2="198.4" y2="502.1" stroke="#e0e0e0" stroke-width="0.5"/>
<line x1="221.3" y1="642.8" x2="218.7" y2="498.6" stroke="#e0e0e0" stroke-width="0.5"/>
<line x1="240.6" y1="635.5" x2="239.1" y2="495.2" stroke="#e0e0e0" stroke-width="0.5"/>
<line x1="259.9" y1="628.3" x2="259.4" y2="491.7" stroke="#e0e0e0" stroke-width="0.5"/>
<line x1="184.6" y1="665.4" x2="285.8" y2="626.1" stroke="#e4e4e4" stroke-width="0.5"/>
<line x1="207.7" y1="673.8" x2="307.9" y2="632.1" stroke="#e4e4e4" stroke-width="0.5"/>
<line x1="230.9" y1="682.1" x2="330.0" y2="638.1" stroke="#e4e4e4" stroke-width="0.5"/>
<line x1="254.0" y1="690.5" x2="352.1" y2="644.1" stroke="#e4e4e4" stroke-width="0.5"/>
<line x1="277.1" y1="698.8" x2="374.2" y2="650.1" stroke="#e4e4e4" stroke-width="0.5"/>
<line x1="285.2" y1="626.0" x2="286.1" y2="490.6" stroke="#e0e0e0" stroke-width="0.5"/>
<line x1="182.1" y1="657.4" x2="303.3" y2="700.2" stroke="#e4e4e4" stroke-width="0.5"/>
<line x1="306.2" y1="631.7" x2="308.1" y2="493.2" stroke="#e0e0e0" stroke-width="0.5"/>
<line x1="200.4" y1="650.5" x2="320.7" y2="691.1" stroke="#e4e4e4" stroke-width="0.5"/>
<line x1="328.9" y1="637.8" x2="332.1" y2="496.0" stroke="#e0e0e0" stroke-width="0.5"/>
<line x1="220.2" y1="643.1" x2="339.5" y2="681.3" stroke="#e4e4e4" stroke-width="0.5"/>
<line x1="351.5" y1="643.9" x2="356.0" y2="498.8" stroke="#e0e0e0" stroke-width="0.5"/>
<line x1="240.1" y1="635.7" x2="358.2" y2="671.4" stroke="#e4e4e4" stroke-width="0.5"/>
<line x1="376.0" y1="650.6" x2="381.8" y2="501.9" stroke="#e0e0e0" stroke-width="0.5"/>
<line x1="261.5" y1="627.8" x2="378.5" y2="660.8" stroke="#e4e4e4" stroke-width="0.5"/>
<line x1="167.3" y1="507.3" x2="274.4" y2="489.2" stroke="#a8a8a8" stroke-width="0.6"/>
<line x1="274.4" y1="489.2" x2="397.1" y2="503.7" stroke="#a8a8a8" stroke-width="0.6"/>
<line x1="274.2" y1="623.0" x2="274.4" y2="489.2" stroke="#a8a8a8" stroke-width="0.6"/>
<line x1="390.5" y1="654.5" x2="397.1" y2="503.7" stroke="#a8a8a8" stroke-width="0.6"/>
<line x1="172.4" y1="661.0" x2="274.2" y2="623.0" stroke="#888" stroke-width="0.6"/>
<line x1="274.2" y1="623.0" x2="390.5" y2="654.5" stroke="#888" stroke-width="0.6"/>
<line x1="172.4" y1="661.0" x2="167.3" y2="507.3" stroke="#333333" stroke-width="0.8"/>
<line x1="172.4" y1="661.0" x2="294.2" y2="705.0" stroke="#333333" stroke-width="0.8"/>
<line x1="294.2" y1="705.0" x2="390.5" y2="654.5" stroke="#333333" stroke-width="0.8"/>
<line x1="172.5" y1="665.5" x2="170.3" y2="665.8" stroke="#333333" stroke-width="0.6"/>
<line x1="171.6" y1="635.4" x2="169.4" y2="635.7" stroke="#333333" stroke-width="0.6"/>
<line x1="170.6" y1="605.3" x2="168.4" y2="605.6" stroke="#333333" stroke-width="0.6"/>
<line x1="169.6" y1="575.2" x2="167.4" y2="575.5" stroke="#333333" stroke-width="0.6"/>
<line x1="168.6" y1="545.1" x2="166.4" y2="545.4" stroke="#333333" stroke-width="0.6"/>
<line x1="167.6" y1="515.0" x2="165.4" y2="515.3" stroke="#333333" stroke-width="0.6"/>
<line x1="172.0" y1="650.5" x2="170.7" y2="650.7" stroke="#333333" stroke-width="0.5"/>
<line x1="171.1" y1="620.4" x2="169.8" y2="620.6" stroke="#333333" stroke-width="0.5"/>
<line x1="170.1" y1="590.2" x2="168.8" y2="590.5" stroke="#333333" stroke-width="0.5"/>
<line x1="169.1" y1="560.2" x2="167.8" y2="560.4" stroke="#333333" stroke-width="0.5"/>
<line x1="168.1" y1="530.0" x2="166.8" y2="530.2" stroke="#333333" stroke-width="0.5"/>
<text transform="translate(168.9,668.5) rotate(-13) skewX(-4)" font-family="Liberation Sans" font-size="6.0" font-weight="bold" text-anchor="end" fill="#000" stroke="#000" stroke-width="0.3">0.05</text>
<text transform="translate(168.0,638.4) rotate(-13) skewX(-4)" font-family="Liberation Sans" font-size="6.0" font-weight="bold" text-anchor="end" fill="#000" stroke="#000" stroke-width="0.3">0.10</text>
<text transform="translate(167.0,608.3) rotate(-13) skewX(-4)" font-family="Liberation Sans" font-size="6.0" font-weight="bold" text-anchor="end" fill="#000" stroke="#000" stroke-width="0.3">0.15</text>
<text transform="translate(166.0,578.2) rotate(-13) skewX(-4)" font-family="Liberation Sans" font-size="6.0" font-weight="bold" text-anchor="end" fill="#000" stroke="#000" stroke-width="0.3">0.20</text>
<text transform="translate(165.0,548.1) rotate(-13) skewX(-4)" font-family="Liberation Sans" font-size="6.0" font-weight="bold" text-anchor="end" fill="#000" stroke="#000" stroke-width="0.3">0.25</text>
<text transform="translate(164.0,518.0) rotate(-13) skewX(-4)" font-family="Liberation Sans" font-size="6.0" font-weight="bold" text-anchor="end" fill="#000" stroke="#000" stroke-width="0.3">0.30</text>
<line x1="177.3" y1="662.8" x2="176.1" y2="665.0" stroke="#333333" stroke-width="0.6"/>
<line x1="199.2" y1="670.7" x2="198.0" y2="672.9" stroke="#333333" stroke-width="0.6"/>
<line x1="223.6" y1="679.5" x2="222.4" y2="681.7" stroke="#333333" stroke-width="0.6"/>
<line x1="249.1" y1="688.7" x2="247.9" y2="690.9" stroke="#333333" stroke-width="0.6"/>
<line x1="277.1" y1="698.8" x2="275.9" y2="701.0" stroke="#333333" stroke-width="0.6"/>
<text transform="translate(175.4,670.4) rotate(-17) skewX(-15) scale(1,0.62)" font-family="Liberation Sans" font-size="5.8" font-weight="bold" text-anchor="middle" fill="#111" stroke="#111" stroke-width="0.28">0.5</text>
<text transform="translate(196.3,678.8) rotate(-17) skewX(-15) scale(1,0.62)" font-family="Liberation Sans" font-size="5.8" font-weight="bold" text-anchor="middle" fill="#111" stroke="#111" stroke-width="0.28">0.6</text>
<text transform="translate(222.5,686.4) rotate(-17) skewX(-15) scale(1,0.62)" font-family="Liberation Sans" font-size="5.8" font-weight="bold" text-anchor="middle" fill="#111" stroke="#111" stroke-width="0.28">0.7</text>
<text transform="translate(246.7,695.3) rotate(-17) skewX(-15) scale(1,0.62)" font-family="Liberation Sans" font-size="5.8" font-weight="bold" text-anchor="middle" fill="#111" stroke="#111" stroke-width="0.28">0.8</text>
<text transform="translate(272.6,705.5) rotate(-17) skewX(-15) scale(1,0.62)" font-family="Liberation Sans" font-size="5.8" font-weight="bold" text-anchor="middle" fill="#111" stroke="#111" stroke-width="0.28">0.9</text>
<line x1="303.8" y1="700.0" x2="305.4" y2="701.6" stroke="#333333" stroke-width="0.6"/>
<line x1="313.5" y1="694.9" x2="315.1" y2="696.5" stroke="#333333" stroke-width="0.6"/>
<line x1="323.1" y1="689.9" x2="324.7" y2="691.5" stroke="#333333" stroke-width="0.6"/>
<line x1="332.7" y1="684.8" x2="334.3" y2="686.4" stroke="#333333" stroke-width="0.6"/>
<line x1="342.4" y1="679.8" x2="344.0" y2="681.4" stroke="#333333" stroke-width="0.6"/>
<line x1="352.0" y1="674.7" x2="353.6" y2="676.3" stroke="#333333" stroke-width="0.6"/>
<line x1="361.6" y1="669.6" x2="363.2" y2="671.2" stroke="#333333" stroke-width="0.6"/>
<line x1="371.2" y1="664.6" x2="372.8" y2="666.2" stroke="#333333" stroke-width="0.6"/>
<line x1="380.9" y1="659.5" x2="382.5" y2="661.1" stroke="#333333" stroke-width="0.6"/>
<line x1="390.5" y1="654.5" x2="392.1" y2="656.1" stroke="#333333" stroke-width="0.6"/>
<text transform="translate(311.4,709.3) rotate(20) skewX(15) scale(1,0.62)" font-family="Liberation Sans" font-size="6.0" font-weight="bold" text-anchor="middle" fill="#111" stroke="#111" stroke-width="0.28">1400</text>
<text transform="translate(321.5,703.8) rotate(20) skewX(15) scale(1,0.62)" font-family="Liberation Sans" font-size="6.0" font-weight="bold" text-anchor="middle" fill="#111" stroke="#111" stroke-width="0.28">1600</text>
<text transform="translate(331.5,698.2) rotate(20) skewX(15) scale(1,0.62)" font-family="Liberation Sans" font-size="6.0" font-weight="bold" text-anchor="middle" fill="#111" stroke="#111" stroke-width="0.28">1800</text>
<text transform="translate(341.6,692.7) rotate(20) skewX(15) scale(1,0.62)" font-family="Liberation Sans" font-size="6.0" font-weight="bold" text-anchor="middle" fill="#111" stroke="#111" stroke-width="0.28">2000</text>
<text transform="translate(351.6,687.2) rotate(20) skewX(15) scale(1,0.62)" font-family="Liberation Sans" font-size="6.0" font-weight="bold" text-anchor="middle" fill="#111" stroke="#111" stroke-width="0.28">2200</text>
<text transform="translate(361.7,681.6) rotate(20) skewX(15) scale(1,0.62)" font-family="Liberation Sans" font-size="6.0" font-weight="bold" text-anchor="middle" fill="#111" stroke="#111" stroke-width="0.28">2400</text>
<text transform="translate(371.7,676.1) rotate(20) skewX(15) scale(1,0.62)" font-family="Liberation Sans" font-size="6.0" font-weight="bold" text-anchor="middle" fill="#111" stroke="#111" stroke-width="0.28">2600</text>
<text transform="translate(381.8,670.6) rotate(20) skewX(15) scale(1,0.62)" font-family="Liberation Sans" font-size="6.0" font-weight="bold" text-anchor="middle" fill="#111" stroke="#111" stroke-width="0.28">2800</text>
<text transform="translate(391.8,665.0) rotate(20) skewX(15) scale(1,0.62)" font-family="Liberation Sans" font-size="6.0" font-weight="bold" text-anchor="middle" fill="#111" stroke="#111" stroke-width="0.28">3000</text>
<text transform="translate(401.9,659.5) rotate(20) skewX(15) scale(1,0.62)" font-family="Liberation Sans" font-size="6.0" font-weight="bold" text-anchor="middle" fill="#111" stroke="#111" stroke-width="0.28">3200</text>
<text transform="translate(212.7,691.3) rotate(19) skewX(-12) scale(1,0.7)" font-family="Liberation Sans" font-size="7.0" font-weight="bold" text-anchor="middle" fill="#222" stroke="#222" stroke-width="0.15">X_basic</text>
<text transform="translate(373.5,685.4) rotate(-26) skewX(-10) scale(1,0.8)" font-family="Liberation Sans" font-size="6.3" font-weight="bold" text-anchor="middle" fill="#222" stroke="#222" stroke-width="0.12">p_high [kPa]</text>
<text transform="translate(151.8,592.6) rotate(-90)" font-family="Liberation Sans" font-size="8.0" font-weight="bold" text-anchor="middle" fill="#222">η_ex</text>
<polyline points="194.0,617.0 204.3,629.0 214.3,640.2 224.7,649.2 235.1,657.6 245.8,665.1 257.4,672.2 268.3,679.1 279.8,685.6 291.6,688.0" fill="none" stroke="#f8c8e8" stroke-width="7" stroke-linejoin="round" opacity="0.45"/>
<polyline points="250.5,549.0 259.9,574.0 270.1,590.8 280.4,603.3 291.0,613.9 301.3,622.6 312.0,630.0 322.9,636.6 334.1,642.9 345.3,648.5" fill="none" stroke="#f8c8f0" stroke-width="7" stroke-linejoin="round" opacity="0.45"/>
<polyline points="275.8,496.6 285.3,542.3 294.9,566.3 305.1,582.9 315.3,594.5 325.5,604.5 336.2,612.4 346.8,619.8 357.8,625.6 369.2,631.5" fill="none" stroke="#c8f4f0" stroke-width="7" stroke-linejoin="round" opacity="0.45"/>
<polyline points="194.0,617.0 204.3,629.0 214.3,640.2 224.7,649.2 235.1,657.6 245.8,665.1 257.4,672.2 268.3,679.1 279.8,685.6 291.6,688.0" fill="none" stroke="#8c3b1c" stroke-width="1.3" stroke-linejoin="round"/>
<circle cx="194.0" cy="617.0" r="2.1" fill="url(#g_brown)" stroke="#4a2a10" stroke-width="0.3"/>
<circle cx="204.3" cy="629.0" r="2.1" fill="url(#g_brown)" stroke="#4a2a10" stroke-width="0.3"/>
<circle cx="214.3" cy="640.2" r="2.1" fill="url(#g_brown)" stroke="#4a2a10" stroke-width="0.3"/>
<circle cx="224.7" cy="649.2" r="2.1" fill="url(#g_brown)" stroke="#4a2a10" stroke-width="0.3"/>
<circle cx="235.1" cy="657.6" r="2.1" fill="url(#g_brown)" stroke="#4a2a10" stroke-width="0.3"/>
<circle cx="245.8" cy="665.1" r="2.1" fill="url(#g_brown)" stroke="#4a2a10" stroke-width="0.3"/>
<circle cx="257.4" cy="672.2" r="2.1" fill="url(#g_brown)" stroke="#4a2a10" stroke-width="0.3"/>
<circle cx="268.3" cy="679.1" r="2.1" fill="url(#g_brown)" stroke="#4a2a10" stroke-width="0.3"/>
<circle cx="279.8" cy="685.6" r="2.1" fill="url(#g_brown)" stroke="#4a2a10" stroke-width="0.3"/>
<circle cx="291.6" cy="688.0" r="2.1" fill="url(#g_brown)" stroke="#4a2a10" stroke-width="0.3"/>
<polyline points="223.3,584.9 232.7,601.7 243.3,614.5 253.9,625.0 264.4,633.8 275.0,642.1 285.9,649.5 296.6,655.8 308.2,662.5 319.6,668.4" fill="none" stroke="#1e1eb8" stroke-width="1.3" stroke-linejoin="round"/>
<circle cx="223.3" cy="584.9" r="2.1" fill="url(#g_blue)" stroke="#0a0a70" stroke-width="0.3"/>
<circle cx="232.7" cy="601.7" r="2.1" fill="url(#g_blue)" stroke="#0a0a70" stroke-width="0.3"/>
<circle cx="243.3" cy="614.5" r="2.1" fill="url(#g_blue)" stroke="#0a0a70" stroke-width="0.3"/>
<circle cx="253.9" cy="625.0" r="2.1" fill="url(#g_blue)" stroke="#0a0a70" stroke-width="0.3"/>
<circle cx="264.4" cy="633.8" r="2.1" fill="url(#g_blue)" stroke="#0a0a70" stroke-width="0.3"/>
<circle cx="275.0" cy="642.1" r="2.1" fill="url(#g_blue)" stroke="#0a0a70" stroke-width="0.3"/>
<circle cx="285.9" cy="649.5" r="2.1" fill="url(#g_blue)" stroke="#0a0a70" stroke-width="0.3"/>
<circle cx="296.6" cy="655.8" r="2.1" fill="url(#g_blue)" stroke="#0a0a70" stroke-width="0.3"/>
<circle cx="308.2" cy="662.5" r="2.1" fill="url(#g_blue)" stroke="#0a0a70" stroke-width="0.3"/>
<circle cx="319.6" cy="668.4" r="2.1" fill="url(#g_blue)" stroke="#0a0a70" stroke-width="0.3"/>
<polyline points="250.5,549.0 259.9,574.0 270.1,590.8 280.4,603.3 291.0,613.9 301.3,622.6 312.0,630.0 322.9,636.6 334.1,642.9 345.3,648.5" fill="none" stroke="#9c4ae0" stroke-width="1.3" stroke-linejoin="round"/>
<circle cx="250.5" cy="549.0" r="2.1" fill="url(#g_purple)" stroke="#50188a" stroke-width="0.3"/>
<circle cx="259.9" cy="574.0" r="2.1" fill="url(#g_purple)" stroke="#50188a" stroke-width="0.3"/>
<circle cx="270.1" cy="590.8" r="2.1" fill="url(#g_purple)" stroke="#50188a" stroke-width="0.3"/>
<circle cx="280.4" cy="603.3" r="2.1" fill="url(#g_purple)" stroke="#50188a" stroke-width="0.3"/>
<circle cx="291.0" cy="613.9" r="2.1" fill="url(#g_purple)" stroke="#50188a" stroke-width="0.3"/>
<circle cx="301.3" cy="622.6" r="2.1" fill="url(#g_purple)" stroke="#50188a" stroke-width="0.3"/>
<circle cx="312.0" cy="630.0" r="2.1" fill="url(#g_purple)" stroke="#50188a" stroke-width="0.3"/>
<circle cx="322.9" cy="636.6" r="2.1" fill="url(#g_purple)" stroke="#50188a" stroke-width="0.3"/>
<circle cx="334.1" cy="642.9" r="2.1" fill="url(#g_purple)" stroke="#50188a" stroke-width="0.3"/>
<circle cx="345.3" cy="648.5" r="2.1" fill="url(#g_purple)" stroke="#50188a" stroke-width="0.3"/>
<polyline points="275.8,496.6 285.3,542.3 294.9,566.3 305.1,582.9 315.3,594.5 325.5,604.5 336.2,612.4 346.8,619.8 357.8,625.6 369.2,631.5" fill="none" stroke="#3c7020" stroke-width="1.3" stroke-linejoin="round"/>
<circle cx="275.8" cy="496.6" r="2.1" fill="url(#g_green)" stroke="#1e4010" stroke-width="0.3"/>
<circle cx="285.3" cy="542.3" r="2.1" fill="url(#g_green)" stroke="#1e4010" stroke-width="0.3"/>
<circle cx="294.9" cy="566.3" r="2.1" fill="url(#g_green)" stroke="#1e4010" stroke-width="0.3"/>
<circle cx="305.1" cy="582.9" r="2.1" fill="url(#g_green)" stroke="#1e4010" stroke-width="0.3"/>
<circle cx="315.3" cy="594.5" r="2.1" fill="url(#g_green)" stroke="#1e4010" stroke-width="0.3"/>
<circle cx="325.5" cy="604.5" r="2.1" fill="url(#g_green)" stroke="#1e4010" stroke-width="0.3"/>
<circle cx="336.2" cy="612.4" r="2.1" fill="url(#g_green)" stroke="#1e4010" stroke-width="0.3"/>
<circle cx="346.8" cy="619.8" r="2.1" fill="url(#g_green)" stroke="#1e4010" stroke-width="0.3"/>
<circle cx="357.8" cy="625.6" r="2.1" fill="url(#g_green)" stroke="#1e4010" stroke-width="0.3"/>
<circle cx="369.2" cy="631.5" r="2.1" fill="url(#g_green)" stroke="#1e4010" stroke-width="0.3"/>
<rect x="58.2" y="30.3" width="59.2" height="46.9" fill="#fff" stroke="#9a9a9a" stroke-width="0.7"/>
<line x1="59.5" y1="37.1" x2="80.5" y2="37.1" stroke="#8c3b1c" stroke-width="1.8"/>
<circle cx="70.0" cy="37.1" r="2.5" fill="url(#g_brownL)" stroke="#4a2a10" stroke-width="0.3"/>
<text transform="translate(82.9,40.3)" font-family="Liberation Sans" font-size="8.9" font-weight="normal" text-anchor="start" fill="#1a1a1a">120 [°C]</text>
<line x1="59.5" y1="48.3" x2="80.5" y2="48.3" stroke="#1e1eb8" stroke-width="1.8"/>
<circle cx="70.0" cy="48.3" r="2.5" fill="url(#g_blue)" stroke="#0a0a70" stroke-width="0.3"/>
<text transform="translate(82.9,51.5)" font-family="Liberation Sans" font-size="8.9" font-weight="normal" text-anchor="start" fill="#1a1a1a">140 [°C]</text>
<line x1="59.5" y1="59.4" x2="80.5" y2="59.4" stroke="#9c4ae0" stroke-width="1.8"/>
<circle cx="70.0" cy="59.4" r="2.5" fill="url(#g_purple)" stroke="#50188a" stroke-width="0.3"/>
<text transform="translate(82.9,62.6)" font-family="Liberation Sans" font-size="8.9" font-weight="normal" text-anchor="start" fill="#1a1a1a">160 [°C]</text>
<line x1="59.5" y1="70.6" x2="80.5" y2="70.6" stroke="#3c7020" stroke-width="1.8"/>
<circle cx="70.0" cy="70.6" r="2.5" fill="url(#g_green)" stroke="#1e4010" stroke-width="0.3"/>
<text transform="translate(82.9,73.8)" font-family="Liberation Sans" font-size="8.9" font-weight="normal" text-anchor="start" fill="#1a1a1a">180 [°C]</text>
<rect x="337.0" y="25.8" width="57.9" height="46.4" fill="#fff" stroke="#9a9a9a" stroke-width="0.7"/>
<line x1="337.8" y1="32.5" x2="358.6" y2="32.5" stroke="#8c3b1c" stroke-width="1.8"/>
<circle cx="348.2" cy="32.5" r="2.5" fill="url(#g_brownL)" stroke="#4a2a10" stroke-width="0.3"/>
<text transform="translate(361.3,35.7)" font-family="Liberation Sans" font-size="8.9" font-weight="normal" text-anchor="start" fill="#1a1a1a">120 [°C]</text>
<line x1="337.8" y1="43.5" x2="358.6" y2="43.5" stroke="#1e1eb8" stroke-width="1.8"/>
<circle cx="348.2" cy="43.5" r="2.5" fill="url(#g_blue)" stroke="#0a0a70" stroke-width="0.3"/>
<text transform="translate(361.3,46.7)" font-family="Liberation Sans" font-size="8.9" font-weight="normal" text-anchor="start" fill="#1a1a1a">140 [°C]</text>
<line x1="337.8" y1="54.4" x2="358.6" y2="54.4" stroke="#9c4ae0" stroke-width="1.8"/>
<circle cx="348.2" cy="54.4" r="2.5" fill="url(#g_purple)" stroke="#50188a" stroke-width="0.3"/>
<text transform="translate(361.3,57.6)" font-family="Liberation Sans" font-size="8.9" font-weight="normal" text-anchor="start" fill="#1a1a1a">160 [°C]</text>
<line x1="337.8" y1="65.2" x2="358.6" y2="65.2" stroke="#3c7020" stroke-width="1.8"/>
<circle cx="348.2" cy="65.2" r="2.5" fill="url(#g_green)" stroke="#1e4010" stroke-width="0.3"/>
<text transform="translate(361.3,68.4)" font-family="Liberation Sans" font-size="8.9" font-weight="normal" text-anchor="start" fill="#1a1a1a">180 [°C]</text>
<rect x="53.4" y="266.0" width="76.4" height="50.0" fill="#fff" stroke="#9a9a9a" stroke-width="0.7"/>
<line x1="54.7" y1="273.7" x2="77.6" y2="273.7" stroke="#8c3b1c" stroke-width="1.8"/>
<circle cx="66.2" cy="273.7" r="2.5" fill="url(#g_brownL)" stroke="#4a2a10" stroke-width="0.3"/>
<text transform="translate(80.3,277.4)" font-family="Liberation Sans" font-size="10.3" font-weight="normal" text-anchor="start" fill="#1a1a1a">1500 [kPa]</text>
<line x1="54.7" y1="285.4" x2="77.6" y2="285.4" stroke="#1e1eb8" stroke-width="1.8"/>
<circle cx="66.2" cy="285.4" r="2.5" fill="url(#g_blue)" stroke="#0a0a70" stroke-width="0.3"/>
<text transform="translate(80.3,289.1)" font-family="Liberation Sans" font-size="10.3" font-weight="normal" text-anchor="start" fill="#1a1a1a">2000 [kPa]</text>
<line x1="54.7" y1="297.2" x2="77.6" y2="297.2" stroke="#9c4ae0" stroke-width="1.8"/>
<circle cx="66.2" cy="297.2" r="2.5" fill="url(#g_purple)" stroke="#50188a" stroke-width="0.3"/>
<text transform="translate(80.3,300.9)" font-family="Liberation Sans" font-size="10.3" font-weight="normal" text-anchor="start" fill="#1a1a1a">2500 [kPa]</text>
<line x1="54.7" y1="309.4" x2="77.6" y2="309.4" stroke="#3c7020" stroke-width="1.8"/>
<circle cx="66.2" cy="309.4" r="2.5" fill="url(#g_green)" stroke="#1e4010" stroke-width="0.3"/>
<text transform="translate(80.3,313.1)" font-family="Liberation Sans" font-size="10.3" font-weight="normal" text-anchor="start" fill="#1a1a1a">3000 [kPa]</text>
<rect x="478.9" y="337.9" width="65.4" height="43.2" fill="#fff" stroke="#9a9a9a" stroke-width="0.7"/>
<line x1="479.9" y1="343.8" x2="500.2" y2="343.8" stroke="#8c3b1c" stroke-width="1.8"/>
<circle cx="490.0" cy="343.8" r="2.5" fill="url(#g_brownL)" stroke="#4a2a10" stroke-width="0.3"/>
<text transform="translate(501.8,346.9)" font-family="Liberation Sans" font-size="8.75" font-weight="normal" text-anchor="start" fill="#1a1a1a">1500 [kPa]</text>
<line x1="479.9" y1="354.3" x2="500.2" y2="354.3" stroke="#1e1eb8" stroke-width="1.8"/>
<circle cx="490.0" cy="354.3" r="2.5" fill="url(#g_blue)" stroke="#0a0a70" stroke-width="0.3"/>
<text transform="translate(501.8,357.4)" font-family="Liberation Sans" font-size="8.75" font-weight="normal" text-anchor="start" fill="#1a1a1a">2000 [kPa]</text>
<line x1="479.9" y1="365.0" x2="500.2" y2="365.0" stroke="#9c4ae0" stroke-width="1.8"/>
<circle cx="490.0" cy="365.0" r="2.5" fill="url(#g_purple)" stroke="#50188a" stroke-width="0.3"/>
<text transform="translate(501.8,368.1)" font-family="Liberation Sans" font-size="8.75" font-weight="normal" text-anchor="start" fill="#1a1a1a">2500 [kPa]</text>
<line x1="479.9" y1="375.6" x2="500.2" y2="375.6" stroke="#3c7020" stroke-width="1.8"/>
<circle cx="490.0" cy="375.6" r="2.5" fill="url(#g_green)" stroke="#1e4010" stroke-width="0.3"/>
<text transform="translate(501.8,378.8)" font-family="Liberation Sans" font-size="8.75" font-weight="normal" text-anchor="start" fill="#1a1a1a">3000 [kPa]</text>
<rect x="312.2" y="508.4" width="73.4" height="48.7" fill="#fff" stroke="#9a9a9a" stroke-width="0.7"/>
<line x1="312.9" y1="515.3" x2="336.2" y2="515.3" stroke="#8c3b1c" stroke-width="1.8"/>
<circle cx="324.5" cy="515.3" r="2.5" fill="url(#g_brownL)" stroke="#4a2a10" stroke-width="0.3"/>
<text transform="translate(337.9,518.8)" font-family="Liberation Sans" font-size="9.75" font-weight="normal" text-anchor="start" fill="#1a1a1a">1500 [kPa]</text>
<line x1="312.9" y1="527.0" x2="336.2" y2="527.0" stroke="#1e1eb8" stroke-width="1.8"/>
<circle cx="324.5" cy="527.0" r="2.5" fill="url(#g_blue)" stroke="#0a0a70" stroke-width="0.3"/>
<text transform="translate(337.9,530.5)" font-family="Liberation Sans" font-size="9.75" font-weight="normal" text-anchor="start" fill="#1a1a1a">2000 [kPa]</text>
<line x1="312.9" y1="538.6" x2="336.2" y2="538.6" stroke="#9c4ae0" stroke-width="1.8"/>
<circle cx="324.5" cy="538.6" r="2.5" fill="url(#g_purple)" stroke="#50188a" stroke-width="0.3"/>
<text transform="translate(337.9,542.1)" font-family="Liberation Sans" font-size="9.75" font-weight="normal" text-anchor="start" fill="#1a1a1a">2500 [kPa]</text>
<line x1="312.9" y1="550.3" x2="336.2" y2="550.3" stroke="#3c7020" stroke-width="1.8"/>
<circle cx="324.5" cy="550.3" r="2.5" fill="url(#g_green)" stroke="#1e4010" stroke-width="0.3"/>
<text transform="translate(337.9,553.8)" font-family="Liberation Sans" font-size="9.75" font-weight="normal" text-anchor="start" fill="#1a1a1a">3000 [kPa]</text>
<text transform="translate(148.9,234.7)" font-family="Liberation Serif" font-size="9.6" font-weight="bold" text-anchor="middle" fill="#1a1a1a">(A)</text>
<text transform="translate(425.9,234.3)" font-family="Liberation Serif" font-size="9.6" font-weight="bold" text-anchor="middle" fill="#1a1a1a">(B)</text>
<text transform="translate(148.9,482.3)" font-family="Liberation Serif" font-size="9.6" font-weight="bold" text-anchor="middle" fill="#1a1a1a">(C)</text>
<text transform="translate(425.6,482.5)" font-family="Liberation Serif" font-size="9.6" font-weight="bold" text-anchor="middle" fill="#1a1a1a">(D)</text>
<text transform="translate(276.0,724.5)" font-family="Liberation Serif" font-size="9.6" font-weight="bold" text-anchor="middle" fill="#1a1a1a">(E)</text>
</svg>
</body></html>
